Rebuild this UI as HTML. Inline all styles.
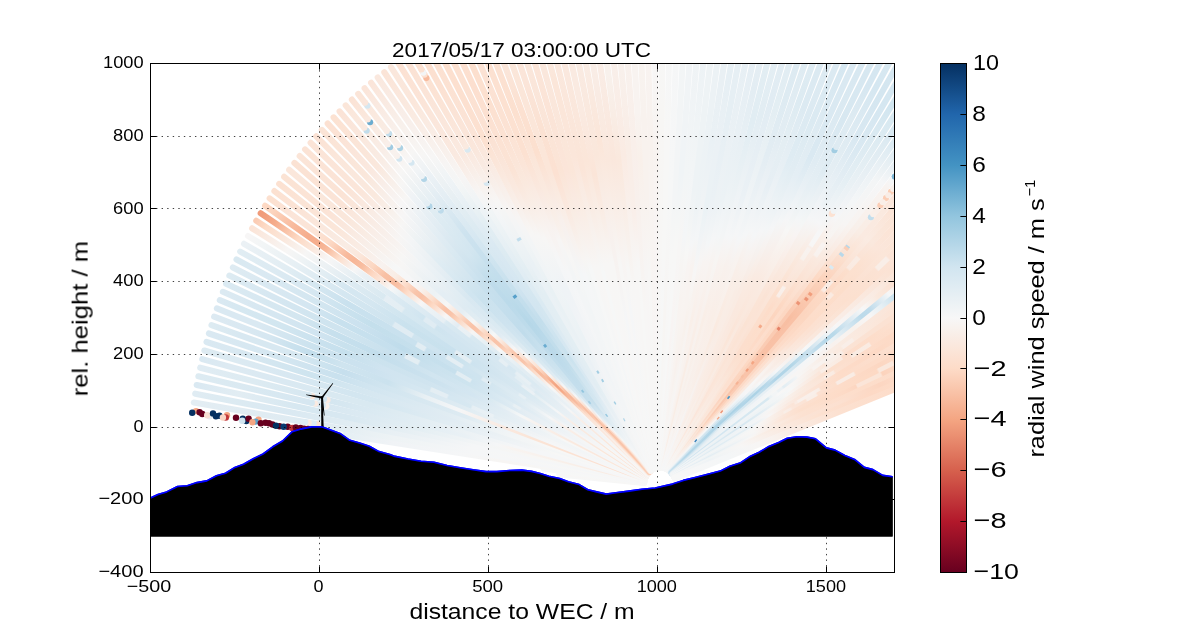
<!DOCTYPE html>
<html><head><meta charset="utf-8"><title>RHI scan</title>
<style>
html,body{margin:0;padding:0;background:#fff;}
body{width:1200px;height:636px;overflow:hidden;}
svg{display:block;font-family:"Liberation Sans",sans-serif;}
text{fill:#000;}
</style></head><body>
<svg width="1200" height="636" viewBox="0 0 1200 636">
<rect width="1200" height="636" fill="#fff"/>
<defs>
<clipPath id="ax"><rect x="150.0" y="63.6" width="744.0" height="508.8"/></clipPath>
<linearGradient id="cb" x1="0" y1="0" x2="0" y2="1"><stop offset="0.00" stop-color="#053061"/><stop offset="0.10" stop-color="#2166ac"/><stop offset="0.20" stop-color="#4393c3"/><stop offset="0.30" stop-color="#92c5de"/><stop offset="0.40" stop-color="#d1e5f0"/><stop offset="0.50" stop-color="#f7f7f7"/><stop offset="0.60" stop-color="#fddbc7"/><stop offset="0.70" stop-color="#f4a582"/><stop offset="0.80" stop-color="#d6604d"/><stop offset="0.90" stop-color="#b2182b"/><stop offset="1.00" stop-color="#67001f"/></linearGradient>
<linearGradient id="g1" gradientUnits="userSpaceOnUse" x1="644.2" y1="482.9" x2="559.3" y2="474.5"><stop offset="0.000" stop-color="#f7f6f5"/><stop offset="1.000" stop-color="#f6f7f7"/></linearGradient>
<linearGradient id="g2" gradientUnits="userSpaceOnUse" x1="644.2" y1="482.6" x2="559.5" y2="472.6"><stop offset="0.000" stop-color="#f7f7f6"/><stop offset="1.000" stop-color="#f7f6f5"/></linearGradient>
<linearGradient id="g3" gradientUnits="userSpaceOnUse" x1="644.2" y1="482.3" x2="543.6" y2="468.5"><stop offset="0.000" stop-color="#f7f7f6"/><stop offset="1.000" stop-color="#f6f7f7"/></linearGradient>
<linearGradient id="g4" gradientUnits="userSpaceOnUse" x1="644.3" y1="482.0" x2="344.4" y2="435.0"><stop offset="0.000" stop-color="#f6f6f7"/><stop offset="0.185" stop-color="#f6f7f7"/><stop offset="0.466" stop-color="#f7f5f3"/><stop offset="0.601" stop-color="#f5f6f7"/><stop offset="0.843" stop-color="#f0f3f6"/><stop offset="1.000" stop-color="#e5eff4"/></linearGradient>
<linearGradient id="g5" gradientUnits="userSpaceOnUse" x1="644.3" y1="481.7" x2="193.8" y2="402.5"><stop offset="0.000" stop-color="#f6f6f7"/><stop offset="0.383" stop-color="#f5f6f7"/><stop offset="0.554" stop-color="#eef3f5"/><stop offset="0.732" stop-color="#deebf2"/><stop offset="1.000" stop-color="#e3edf3"/></linearGradient>
<linearGradient id="g6" gradientUnits="userSpaceOnUse" x1="644.4" y1="481.4" x2="195.2" y2="393.7"><stop offset="0.000" stop-color="#f7f7f6"/><stop offset="0.115" stop-color="#f7f7f6"/><stop offset="0.390" stop-color="#f5f6f7"/><stop offset="0.695" stop-color="#deebf2"/><stop offset="0.803" stop-color="#dae9f2"/><stop offset="0.955" stop-color="#ddebf2"/><stop offset="1.000" stop-color="#e0ecf3"/></linearGradient>
<linearGradient id="g7" gradientUnits="userSpaceOnUse" x1="644.4" y1="481.2" x2="196.7" y2="385.0"><stop offset="0.000" stop-color="#f5f6f7"/><stop offset="0.379" stop-color="#f5f6f7"/><stop offset="0.550" stop-color="#e4eef3"/><stop offset="0.658" stop-color="#d8e8f1"/><stop offset="0.781" stop-color="#d7e8f1"/><stop offset="0.907" stop-color="#e2edf3"/><stop offset="1.000" stop-color="#dae9f2"/></linearGradient>
<linearGradient id="g8" gradientUnits="userSpaceOnUse" x1="644.5" y1="480.9" x2="198.4" y2="376.3"><stop offset="0.000" stop-color="#f6f7f7"/><stop offset="0.260" stop-color="#f7f6f4"/><stop offset="0.372" stop-color="#f3f5f6"/><stop offset="0.513" stop-color="#e3eef3"/><stop offset="0.617" stop-color="#dceaf2"/><stop offset="0.758" stop-color="#d6e7f1"/><stop offset="1.000" stop-color="#ddebf2"/></linearGradient>
<linearGradient id="g9" gradientUnits="userSpaceOnUse" x1="644.5" y1="480.6" x2="200.2" y2="367.7"><stop offset="0.000" stop-color="#f7f6f4"/><stop offset="0.041" stop-color="#f8f3f0"/><stop offset="0.082" stop-color="#f9ece4"/><stop offset="0.297" stop-color="#f8f4f1"/><stop offset="0.331" stop-color="#f5f6f7"/><stop offset="0.401" stop-color="#eaf1f5"/><stop offset="0.606" stop-color="#dbeaf2"/><stop offset="0.710" stop-color="#d4e6f0"/><stop offset="0.877" stop-color="#ddebf2"/><stop offset="1.000" stop-color="#e0ecf3"/></linearGradient>
<linearGradient id="g10" gradientUnits="userSpaceOnUse" x1="644.6" y1="480.3" x2="202.2" y2="359.1"><stop offset="0.000" stop-color="#f5f6f7"/><stop offset="0.290" stop-color="#f5f6f7"/><stop offset="0.617" stop-color="#d9e9f1"/><stop offset="0.725" stop-color="#d9e9f1"/><stop offset="0.822" stop-color="#dae9f2"/><stop offset="0.941" stop-color="#ddeaf2"/><stop offset="1.000" stop-color="#dae9f2"/></linearGradient>
<linearGradient id="g11" gradientUnits="userSpaceOnUse" x1="644.7" y1="480.0" x2="204.3" y2="350.5"><stop offset="0.000" stop-color="#f6f6f7"/><stop offset="0.230" stop-color="#f5f6f7"/><stop offset="0.346" stop-color="#ebf1f5"/><stop offset="0.442" stop-color="#e2edf3"/><stop offset="0.565" stop-color="#d7e8f1"/><stop offset="0.658" stop-color="#d3e6f0"/><stop offset="0.766" stop-color="#d6e7f1"/><stop offset="0.859" stop-color="#dae9f2"/><stop offset="0.981" stop-color="#ddebf2"/><stop offset="1.000" stop-color="#deebf2"/></linearGradient>
<linearGradient id="g12" gradientUnits="userSpaceOnUse" x1="644.7" y1="479.7" x2="206.5" y2="342.0"><stop offset="0.000" stop-color="#f7f7f7"/><stop offset="0.201" stop-color="#f7f7f6"/><stop offset="0.439" stop-color="#e1ecf3"/><stop offset="0.758" stop-color="#cee4ef"/><stop offset="0.926" stop-color="#d8e8f1"/><stop offset="1.000" stop-color="#dae9f2"/></linearGradient>
<linearGradient id="g13" gradientUnits="userSpaceOnUse" x1="644.8" y1="479.4" x2="208.9" y2="333.5"><stop offset="0.000" stop-color="#f7f7f6"/><stop offset="0.305" stop-color="#f2f5f6"/><stop offset="0.442" stop-color="#e2edf3"/><stop offset="0.636" stop-color="#d1e5f0"/><stop offset="0.706" stop-color="#c9e1ee"/><stop offset="0.758" stop-color="#cee3ef"/><stop offset="0.848" stop-color="#d5e7f1"/><stop offset="1.000" stop-color="#dae9f2"/></linearGradient>
<linearGradient id="g14" gradientUnits="userSpaceOnUse" x1="644.9" y1="479.1" x2="211.5" y2="325.1"><stop offset="0.000" stop-color="#f7f7f7"/><stop offset="0.223" stop-color="#f7f7f6"/><stop offset="0.320" stop-color="#f0f4f6"/><stop offset="0.413" stop-color="#deebf2"/><stop offset="0.584" stop-color="#d3e6f0"/><stop offset="0.695" stop-color="#c6dfed"/><stop offset="0.751" stop-color="#cee4ef"/><stop offset="0.807" stop-color="#d7e8f1"/><stop offset="0.937" stop-color="#d8e8f1"/><stop offset="1.000" stop-color="#ddebf2"/></linearGradient>
<linearGradient id="g15" gradientUnits="userSpaceOnUse" x1="645.0" y1="478.9" x2="214.1" y2="316.7"><stop offset="0.000" stop-color="#f7f7f7"/><stop offset="0.048" stop-color="#fce0d0"/><stop offset="0.257" stop-color="#fbe4d6"/><stop offset="0.320" stop-color="#fae9df"/><stop offset="0.431" stop-color="#f5f6f7"/><stop offset="0.509" stop-color="#e8f0f4"/><stop offset="0.595" stop-color="#cbe2ee"/><stop offset="0.703" stop-color="#cfe4ef"/><stop offset="0.773" stop-color="#c3deec"/><stop offset="0.825" stop-color="#cbe2ee"/><stop offset="0.874" stop-color="#d6e7f1"/><stop offset="1.000" stop-color="#ddeaf2"/></linearGradient>
<linearGradient id="g16" gradientUnits="userSpaceOnUse" x1="645.1" y1="478.6" x2="216.9" y2="308.4"><stop offset="0.000" stop-color="#f6f6f7"/><stop offset="0.219" stop-color="#f5f6f7"/><stop offset="0.327" stop-color="#ecf2f5"/><stop offset="0.431" stop-color="#deebf2"/><stop offset="0.539" stop-color="#d5e7f1"/><stop offset="0.643" stop-color="#cce2ef"/><stop offset="0.773" stop-color="#cbe2ee"/><stop offset="0.900" stop-color="#dae9f2"/><stop offset="1.000" stop-color="#dae9f2"/></linearGradient>
<linearGradient id="g17" gradientUnits="userSpaceOnUse" x1="645.2" y1="478.3" x2="219.8" y2="300.1"><stop offset="0.000" stop-color="#f7f6f5"/><stop offset="0.219" stop-color="#f4f5f6"/><stop offset="0.320" stop-color="#e9f0f4"/><stop offset="0.353" stop-color="#e2edf3"/><stop offset="0.357" stop-color="#eaf1f5"/><stop offset="0.405" stop-color="#e6eff4"/><stop offset="0.409" stop-color="#d7e8f1"/><stop offset="0.461" stop-color="#d5e7f1"/><stop offset="0.465" stop-color="#e4eef4"/><stop offset="0.502" stop-color="#e4eef3"/><stop offset="0.506" stop-color="#d3e6f0"/><stop offset="0.617" stop-color="#d0e4f0"/><stop offset="0.703" stop-color="#c6e0ed"/><stop offset="0.762" stop-color="#c9e1ee"/><stop offset="0.851" stop-color="#d2e6f0"/><stop offset="0.955" stop-color="#d6e8f1"/><stop offset="1.000" stop-color="#dae9f2"/></linearGradient>
<linearGradient id="g18" gradientUnits="userSpaceOnUse" x1="645.3" y1="478.0" x2="222.9" y2="291.8"><stop offset="0.000" stop-color="#f7f7f6"/><stop offset="0.219" stop-color="#f1f4f6"/><stop offset="0.361" stop-color="#e0ecf3"/><stop offset="0.472" stop-color="#d2e5f0"/><stop offset="0.710" stop-color="#c8e1ed"/><stop offset="0.770" stop-color="#d0e4f0"/><stop offset="0.885" stop-color="#d6e7f1"/><stop offset="1.000" stop-color="#dceaf2"/></linearGradient>
<linearGradient id="g19" gradientUnits="userSpaceOnUse" x1="645.4" y1="477.7" x2="226.1" y2="283.7"><stop offset="0.000" stop-color="#f6f7f7"/><stop offset="0.219" stop-color="#f0f4f6"/><stop offset="0.338" stop-color="#e2edf3"/><stop offset="0.480" stop-color="#cee3ef"/><stop offset="0.647" stop-color="#c3deec"/><stop offset="0.747" stop-color="#c7e0ed"/><stop offset="0.818" stop-color="#d3e6f0"/><stop offset="1.000" stop-color="#dbeaf2"/></linearGradient>
<linearGradient id="g20" gradientUnits="userSpaceOnUse" x1="645.5" y1="477.5" x2="229.4" y2="275.6"><stop offset="0.000" stop-color="#f7f6f5"/><stop offset="0.193" stop-color="#f7f7f6"/><stop offset="0.323" stop-color="#e5eef4"/><stop offset="0.413" stop-color="#d4e6f1"/><stop offset="0.513" stop-color="#d1e5f0"/><stop offset="0.602" stop-color="#c8e0ed"/><stop offset="0.710" stop-color="#cfe4ef"/><stop offset="0.766" stop-color="#cfe4ef"/><stop offset="0.896" stop-color="#d6e7f1"/><stop offset="1.000" stop-color="#ddebf2"/></linearGradient>
<linearGradient id="g21" gradientUnits="userSpaceOnUse" x1="645.6" y1="477.2" x2="232.9" y2="267.5"><stop offset="0.000" stop-color="#f8f3f1"/><stop offset="0.033" stop-color="#fbe5d8"/><stop offset="0.190" stop-color="#faeae0"/><stop offset="0.286" stop-color="#f7f5f3"/><stop offset="0.301" stop-color="#f4f6f7"/><stop offset="0.375" stop-color="#d9e9f1"/><stop offset="0.450" stop-color="#d1e5f0"/><stop offset="0.546" stop-color="#c8e0ed"/><stop offset="0.550" stop-color="#e3eef3"/><stop offset="0.580" stop-color="#e3edf3"/><stop offset="0.584" stop-color="#c5dfed"/><stop offset="0.740" stop-color="#c8e1ee"/><stop offset="0.814" stop-color="#d4e6f1"/><stop offset="1.000" stop-color="#deebf2"/></linearGradient>
<linearGradient id="g22" gradientUnits="userSpaceOnUse" x1="645.8" y1="476.9" x2="236.5" y2="259.5"><stop offset="0.000" stop-color="#f7f6f6"/><stop offset="0.190" stop-color="#f4f5f6"/><stop offset="0.346" stop-color="#dae9f2"/><stop offset="0.428" stop-color="#cee4ef"/><stop offset="0.506" stop-color="#cbe2ee"/><stop offset="0.595" stop-color="#bfdceb"/><stop offset="0.706" stop-color="#cce2ef"/><stop offset="0.796" stop-color="#d3e6f0"/><stop offset="0.937" stop-color="#dae9f2"/><stop offset="1.000" stop-color="#d9e9f1"/></linearGradient>
<linearGradient id="g23" gradientUnits="userSpaceOnUse" x1="645.9" y1="476.7" x2="240.2" y2="251.6"><stop offset="0.000" stop-color="#f7f7f6"/><stop offset="0.193" stop-color="#f0f3f6"/><stop offset="0.305" stop-color="#e3edf3"/><stop offset="0.309" stop-color="#e9f0f4"/><stop offset="0.323" stop-color="#e8f0f4"/><stop offset="0.327" stop-color="#dfecf3"/><stop offset="0.428" stop-color="#cde3ef"/><stop offset="0.431" stop-color="#e3eef3"/><stop offset="0.465" stop-color="#e2edf3"/><stop offset="0.468" stop-color="#c7e0ed"/><stop offset="0.677" stop-color="#c4dfec"/><stop offset="0.751" stop-color="#cce3ef"/><stop offset="0.814" stop-color="#d6e7f1"/><stop offset="1.000" stop-color="#e1edf3"/></linearGradient>
<linearGradient id="g24" gradientUnits="userSpaceOnUse" x1="646.0" y1="476.4" x2="244.0" y2="243.8"><stop offset="0.000" stop-color="#f6f6f7"/><stop offset="0.152" stop-color="#f4f5f6"/><stop offset="0.227" stop-color="#eaf1f5"/><stop offset="0.327" stop-color="#dae9f2"/><stop offset="0.428" stop-color="#cee4ef"/><stop offset="0.546" stop-color="#c9e1ee"/><stop offset="0.550" stop-color="#e2edf3"/><stop offset="0.569" stop-color="#e2edf3"/><stop offset="0.572" stop-color="#c9e1ee"/><stop offset="0.743" stop-color="#c9e1ee"/><stop offset="0.892" stop-color="#e1edf3"/><stop offset="1.000" stop-color="#ebf1f5"/></linearGradient>
<linearGradient id="g25" gradientUnits="userSpaceOnUse" x1="646.1" y1="476.1" x2="248.0" y2="236.0"><stop offset="0.000" stop-color="#f7f5f4"/><stop offset="0.115" stop-color="#f7f7f6"/><stop offset="0.230" stop-color="#edf2f5"/><stop offset="0.387" stop-color="#d3e6f0"/><stop offset="0.390" stop-color="#e1edf3"/><stop offset="0.409" stop-color="#e0ecf3"/><stop offset="0.413" stop-color="#cfe4ef"/><stop offset="0.457" stop-color="#cfe4f0"/><stop offset="0.461" stop-color="#e4eef4"/><stop offset="0.498" stop-color="#e4eef3"/><stop offset="0.502" stop-color="#cee3ef"/><stop offset="0.584" stop-color="#cfe4ef"/><stop offset="0.587" stop-color="#e0ecf3"/><stop offset="0.632" stop-color="#e0ecf3"/><stop offset="0.636" stop-color="#cfe4ef"/><stop offset="0.762" stop-color="#d5e7f1"/><stop offset="0.963" stop-color="#f2f5f6"/><stop offset="1.000" stop-color="#f7f6f6"/></linearGradient>
<linearGradient id="g26" gradientUnits="userSpaceOnUse" x1="646.3" y1="475.9" x2="252.1" y2="228.3"><stop offset="0.000" stop-color="#f9eee7"/><stop offset="0.026" stop-color="#fbe3d4"/><stop offset="0.104" stop-color="#fbe6d9"/><stop offset="0.212" stop-color="#f8f0eb"/><stop offset="0.242" stop-color="#f5f6f7"/><stop offset="0.309" stop-color="#dfecf3"/><stop offset="0.398" stop-color="#d7e8f1"/><stop offset="0.494" stop-color="#c8e1ed"/><stop offset="0.610" stop-color="#cae2ee"/><stop offset="0.699" stop-color="#d5e7f1"/><stop offset="0.762" stop-color="#d5e7f1"/><stop offset="0.870" stop-color="#eef3f5"/><stop offset="0.911" stop-color="#f7f6f5"/><stop offset="1.000" stop-color="#fbe4d7"/></linearGradient>
<linearGradient id="g27" gradientUnits="userSpaceOnUse" x1="646.4" y1="475.6" x2="256.3" y2="220.7"><stop offset="0.000" stop-color="#f7f6f5"/><stop offset="0.089" stop-color="#f7f5f3"/><stop offset="0.193" stop-color="#f4f5f6"/><stop offset="0.305" stop-color="#deebf2"/><stop offset="0.309" stop-color="#e6eff4"/><stop offset="0.323" stop-color="#e5eff4"/><stop offset="0.327" stop-color="#dceaf2"/><stop offset="0.446" stop-color="#cde3ef"/><stop offset="0.450" stop-color="#e4eef3"/><stop offset="0.487" stop-color="#e3edf3"/><stop offset="0.491" stop-color="#c9e1ee"/><stop offset="0.602" stop-color="#cee4ef"/><stop offset="0.758" stop-color="#deebf2"/><stop offset="0.874" stop-color="#f7f6f5"/><stop offset="0.974" stop-color="#fddcc8"/><stop offset="1.000" stop-color="#fbccb4"/></linearGradient>
<linearGradient id="g28" gradientUnits="userSpaceOnUse" x1="646.6" y1="475.4" x2="260.7" y2="213.2"><stop offset="0.000" stop-color="#f7f7f6"/><stop offset="0.134" stop-color="#f4f5f6"/><stop offset="0.216" stop-color="#eaf1f5"/><stop offset="0.323" stop-color="#d8e8f1"/><stop offset="0.435" stop-color="#cfe4ef"/><stop offset="0.546" stop-color="#d2e6f0"/><stop offset="0.628" stop-color="#d6e8f1"/><stop offset="0.632" stop-color="#e4eef3"/><stop offset="0.677" stop-color="#e5eef4"/><stop offset="0.680" stop-color="#d9e9f1"/><stop offset="0.755" stop-color="#e4eef3"/><stop offset="0.825" stop-color="#f7f6f6"/><stop offset="0.903" stop-color="#fddac5"/><stop offset="0.963" stop-color="#f5ac8b"/><stop offset="0.989" stop-color="#f19e7d"/><stop offset="1.000" stop-color="#f09b7a"/></linearGradient>
<linearGradient id="g29" gradientUnits="userSpaceOnUse" x1="646.7" y1="475.1" x2="265.1" y2="205.8"><stop offset="0.000" stop-color="#f7f6f5"/><stop offset="0.100" stop-color="#f7f7f6"/><stop offset="0.212" stop-color="#ebf1f5"/><stop offset="0.309" stop-color="#d8e9f1"/><stop offset="0.428" stop-color="#d2e5f0"/><stop offset="0.517" stop-color="#d1e5f0"/><stop offset="0.550" stop-color="#cfe4ef"/><stop offset="0.554" stop-color="#e0ecf3"/><stop offset="0.580" stop-color="#e0ecf3"/><stop offset="0.584" stop-color="#d0e5f0"/><stop offset="0.743" stop-color="#ebf1f5"/><stop offset="0.766" stop-color="#f7f6f6"/><stop offset="0.807" stop-color="#fdddca"/><stop offset="0.840" stop-color="#f7b99b"/><stop offset="0.859" stop-color="#f6ae8e"/><stop offset="0.888" stop-color="#f5ad8d"/><stop offset="0.926" stop-color="#f8ba9d"/><stop offset="0.981" stop-color="#fcd5bf"/><stop offset="1.000" stop-color="#fdd9c4"/></linearGradient>
<linearGradient id="g30" gradientUnits="userSpaceOnUse" x1="646.9" y1="474.9" x2="269.7" y2="198.4"><stop offset="0.000" stop-color="#faeae1"/><stop offset="0.019" stop-color="#fce2d3"/><stop offset="0.112" stop-color="#fbe6d9"/><stop offset="0.193" stop-color="#f9ede5"/><stop offset="0.234" stop-color="#f5f6f7"/><stop offset="0.290" stop-color="#e3eef3"/><stop offset="0.294" stop-color="#e3edf3"/><stop offset="0.297" stop-color="#ebf1f5"/><stop offset="0.327" stop-color="#e9f0f4"/><stop offset="0.331" stop-color="#dceaf2"/><stop offset="0.428" stop-color="#d3e6f0"/><stop offset="0.535" stop-color="#d4e6f1"/><stop offset="0.647" stop-color="#e5eff4"/><stop offset="0.677" stop-color="#f7f7f7"/><stop offset="0.725" stop-color="#fdd9c5"/><stop offset="0.755" stop-color="#f8bda0"/><stop offset="0.777" stop-color="#f7b697"/><stop offset="0.796" stop-color="#f8ba9d"/><stop offset="0.844" stop-color="#fddcc9"/><stop offset="0.881" stop-color="#fbe4d7"/><stop offset="0.937" stop-color="#fbe5d9"/><stop offset="1.000" stop-color="#fce0cf"/></linearGradient>
<linearGradient id="g31" gradientUnits="userSpaceOnUse" x1="647.0" y1="474.6" x2="274.4" y2="191.1"><stop offset="0.000" stop-color="#f7f6f5"/><stop offset="0.097" stop-color="#f7f7f6"/><stop offset="0.223" stop-color="#e8f0f4"/><stop offset="0.297" stop-color="#dbeaf2"/><stop offset="0.301" stop-color="#e4eef4"/><stop offset="0.349" stop-color="#e3eef3"/><stop offset="0.353" stop-color="#d8e8f1"/><stop offset="0.465" stop-color="#d5e7f1"/><stop offset="0.532" stop-color="#d9e9f1"/><stop offset="0.539" stop-color="#dbeaf2"/><stop offset="0.543" stop-color="#e7eff4"/><stop offset="0.580" stop-color="#ecf2f5"/><stop offset="0.587" stop-color="#ecf2f5"/><stop offset="0.606" stop-color="#f7f6f6"/><stop offset="0.643" stop-color="#fdddca"/><stop offset="0.665" stop-color="#f9c3a9"/><stop offset="0.680" stop-color="#f8bda0"/><stop offset="0.703" stop-color="#f8c0a4"/><stop offset="0.736" stop-color="#fcd7c2"/><stop offset="0.770" stop-color="#fbe6da"/><stop offset="0.807" stop-color="#f9ece4"/><stop offset="0.929" stop-color="#fbe4d7"/><stop offset="1.000" stop-color="#fce1d1"/></linearGradient>
<linearGradient id="g32" gradientUnits="userSpaceOnUse" x1="647.2" y1="474.4" x2="279.2" y2="183.9"><stop offset="0.000" stop-color="#f7f6f6"/><stop offset="0.115" stop-color="#f4f5f6"/><stop offset="0.312" stop-color="#ddeaf2"/><stop offset="0.316" stop-color="#e8f0f4"/><stop offset="0.353" stop-color="#e6eff4"/><stop offset="0.357" stop-color="#d7e8f1"/><stop offset="0.375" stop-color="#d6e7f1"/><stop offset="0.379" stop-color="#e6eff4"/><stop offset="0.398" stop-color="#e6eff4"/><stop offset="0.401" stop-color="#d5e7f1"/><stop offset="0.476" stop-color="#d9e9f1"/><stop offset="0.480" stop-color="#e8f0f4"/><stop offset="0.509" stop-color="#ebf1f5"/><stop offset="0.513" stop-color="#e1ecf3"/><stop offset="0.546" stop-color="#f7f6f6"/><stop offset="0.584" stop-color="#fdd8c3"/><stop offset="0.599" stop-color="#fac8ae"/><stop offset="0.613" stop-color="#f9c0a5"/><stop offset="0.628" stop-color="#f9c4aa"/><stop offset="0.662" stop-color="#fce2d3"/><stop offset="0.684" stop-color="#f9ede5"/><stop offset="0.721" stop-color="#f8f2ef"/><stop offset="0.848" stop-color="#fbe6d9"/><stop offset="0.944" stop-color="#fbe4d6"/><stop offset="1.000" stop-color="#fce1d1"/></linearGradient>
<linearGradient id="g33" gradientUnits="userSpaceOnUse" x1="647.4" y1="474.1" x2="284.2" y2="176.8"><stop offset="0.000" stop-color="#f7f6f5"/><stop offset="0.130" stop-color="#f4f5f6"/><stop offset="0.227" stop-color="#e7eff4"/><stop offset="0.305" stop-color="#dbeaf2"/><stop offset="0.431" stop-color="#e1edf3"/><stop offset="0.468" stop-color="#f0f4f6"/><stop offset="0.480" stop-color="#f7f5f4"/><stop offset="0.520" stop-color="#fcd6c0"/><stop offset="0.539" stop-color="#f9c4aa"/><stop offset="0.554" stop-color="#f9c1a6"/><stop offset="0.572" stop-color="#fbcdb5"/><stop offset="0.591" stop-color="#fcdfce"/><stop offset="0.621" stop-color="#f8f1ed"/><stop offset="0.643" stop-color="#f6f6f7"/><stop offset="0.695" stop-color="#f6f7f7"/><stop offset="0.870" stop-color="#fbe4d7"/><stop offset="1.000" stop-color="#fbe3d4"/></linearGradient>
<linearGradient id="g34" gradientUnits="userSpaceOnUse" x1="647.5" y1="473.9" x2="289.2" y2="169.8"><stop offset="0.000" stop-color="#faeae1"/><stop offset="0.019" stop-color="#fce1d2"/><stop offset="0.104" stop-color="#fbe6d9"/><stop offset="0.178" stop-color="#f9eee7"/><stop offset="0.216" stop-color="#f5f6f7"/><stop offset="0.271" stop-color="#e2edf3"/><stop offset="0.349" stop-color="#e2edf3"/><stop offset="0.394" stop-color="#eef3f5"/><stop offset="0.409" stop-color="#f6f7f7"/><stop offset="0.446" stop-color="#fcdfce"/><stop offset="0.472" stop-color="#f9c6ac"/><stop offset="0.487" stop-color="#f9c2a7"/><stop offset="0.502" stop-color="#fac9b0"/><stop offset="0.532" stop-color="#fbe5d8"/><stop offset="0.558" stop-color="#f7f6f5"/><stop offset="0.595" stop-color="#ecf2f5"/><stop offset="0.688" stop-color="#f7f6f5"/><stop offset="0.840" stop-color="#fae7db"/><stop offset="1.000" stop-color="#fbe7db"/></linearGradient>
<linearGradient id="g35" gradientUnits="userSpaceOnUse" x1="647.7" y1="473.7" x2="294.4" y2="162.9"><stop offset="0.000" stop-color="#f7f6f6"/><stop offset="0.089" stop-color="#f7f6f6"/><stop offset="0.257" stop-color="#e7eff4"/><stop offset="0.312" stop-color="#ebf2f5"/><stop offset="0.342" stop-color="#f7f7f6"/><stop offset="0.375" stop-color="#fbe5d7"/><stop offset="0.401" stop-color="#fbd0b9"/><stop offset="0.416" stop-color="#f9c5ab"/><stop offset="0.431" stop-color="#f9c3a9"/><stop offset="0.446" stop-color="#fbcdb5"/><stop offset="0.472" stop-color="#fae8dd"/><stop offset="0.491" stop-color="#f7f6f5"/><stop offset="0.524" stop-color="#e4eef4"/><stop offset="0.580" stop-color="#e4eef4"/><stop offset="0.695" stop-color="#f7f6f5"/><stop offset="0.870" stop-color="#fbe4d7"/><stop offset="1.000" stop-color="#fbe2d3"/></linearGradient>
<linearGradient id="g36" gradientUnits="userSpaceOnUse" x1="647.9" y1="473.5" x2="299.7" y2="156.1"><stop offset="0.000" stop-color="#f7f7f7"/><stop offset="0.167" stop-color="#f0f3f6"/><stop offset="0.245" stop-color="#eef3f5"/><stop offset="0.275" stop-color="#f7f7f6"/><stop offset="0.331" stop-color="#fcd7c2"/><stop offset="0.353" stop-color="#f9c5ab"/><stop offset="0.375" stop-color="#f9c3a8"/><stop offset="0.394" stop-color="#fbd1ba"/><stop offset="0.420" stop-color="#fae9df"/><stop offset="0.439" stop-color="#f7f7f7"/><stop offset="0.468" stop-color="#e3eef3"/><stop offset="0.524" stop-color="#deebf2"/><stop offset="0.654" stop-color="#f1f4f6"/><stop offset="0.699" stop-color="#f7f5f4"/><stop offset="0.881" stop-color="#fbe3d5"/><stop offset="1.000" stop-color="#fbe5d8"/></linearGradient>
<linearGradient id="g37" gradientUnits="userSpaceOnUse" x1="648.1" y1="473.2" x2="305.1" y2="149.4"><stop offset="0.000" stop-color="#f7f6f5"/><stop offset="0.056" stop-color="#f8f4f3"/><stop offset="0.093" stop-color="#f8f4f1"/><stop offset="0.167" stop-color="#f6f6f7"/><stop offset="0.204" stop-color="#f7f5f4"/><stop offset="0.238" stop-color="#f9ece4"/><stop offset="0.268" stop-color="#fddbc7"/><stop offset="0.294" stop-color="#f8bfa3"/><stop offset="0.309" stop-color="#f7ba9c"/><stop offset="0.327" stop-color="#f8c0a4"/><stop offset="0.349" stop-color="#fcd7c2"/><stop offset="0.387" stop-color="#f7f5f4"/><stop offset="0.398" stop-color="#eff3f6"/><stop offset="0.428" stop-color="#e1ecf3"/><stop offset="0.506" stop-color="#dbeaf2"/><stop offset="0.677" stop-color="#f1f4f6"/><stop offset="0.725" stop-color="#f7f5f4"/><stop offset="0.874" stop-color="#fbe4d7"/><stop offset="1.000" stop-color="#fbe3d5"/></linearGradient>
<linearGradient id="g38" gradientUnits="userSpaceOnUse" x1="648.2" y1="473.0" x2="310.6" y2="142.8"><stop offset="0.000" stop-color="#f7f5f4"/><stop offset="0.033" stop-color="#f7f6f5"/><stop offset="0.078" stop-color="#fbe7db"/><stop offset="0.149" stop-color="#fae7dc"/><stop offset="0.190" stop-color="#fcdfce"/><stop offset="0.212" stop-color="#fbd0b9"/><stop offset="0.249" stop-color="#f5ab89"/><stop offset="0.268" stop-color="#f3a481"/><stop offset="0.283" stop-color="#f5ac8b"/><stop offset="0.320" stop-color="#fdddca"/><stop offset="0.357" stop-color="#f7f7f7"/><stop offset="0.398" stop-color="#e2edf3"/><stop offset="0.450" stop-color="#dbeaf2"/><stop offset="0.532" stop-color="#d8e8f1"/><stop offset="0.706" stop-color="#f4f5f6"/><stop offset="0.736" stop-color="#f7f5f4"/><stop offset="0.851" stop-color="#fbe6da"/><stop offset="1.000" stop-color="#fbe4d7"/></linearGradient>
<linearGradient id="g39" gradientUnits="userSpaceOnUse" x1="648.4" y1="472.8" x2="316.2" y2="136.3"><stop offset="0.000" stop-color="#f7f6f5"/><stop offset="0.048" stop-color="#f8f4f2"/><stop offset="0.093" stop-color="#f8f0ec"/><stop offset="0.138" stop-color="#f9ece4"/><stop offset="0.175" stop-color="#fdddca"/><stop offset="0.212" stop-color="#f8bca0"/><stop offset="0.227" stop-color="#f7b799"/><stop offset="0.242" stop-color="#f8bda0"/><stop offset="0.257" stop-color="#fbcdb6"/><stop offset="0.275" stop-color="#fbe5d7"/><stop offset="0.294" stop-color="#f7f5f4"/><stop offset="0.309" stop-color="#eff3f6"/><stop offset="0.361" stop-color="#deebf2"/><stop offset="0.457" stop-color="#d3e6f0"/><stop offset="0.532" stop-color="#d0e5f0"/><stop offset="0.636" stop-color="#e1edf3"/><stop offset="0.740" stop-color="#f7f6f5"/><stop offset="0.825" stop-color="#fae9de"/><stop offset="0.874" stop-color="#fae8dd"/><stop offset="0.937" stop-color="#fbe7db"/><stop offset="1.000" stop-color="#fbe2d4"/></linearGradient>
<linearGradient id="g40" gradientUnits="userSpaceOnUse" x1="648.6" y1="472.6" x2="321.9" y2="129.9"><stop offset="0.000" stop-color="#f8f2ef"/><stop offset="0.063" stop-color="#f9eee8"/><stop offset="0.115" stop-color="#fbe5d8"/><stop offset="0.145" stop-color="#fdd8c3"/><stop offset="0.175" stop-color="#f9c1a6"/><stop offset="0.190" stop-color="#f8bda1"/><stop offset="0.204" stop-color="#f9c3a9"/><stop offset="0.219" stop-color="#fcd4be"/><stop offset="0.253" stop-color="#f7f5f3"/><stop offset="0.260" stop-color="#f2f4f6"/><stop offset="0.283" stop-color="#e0ecf3"/><stop offset="0.327" stop-color="#d8e9f1"/><stop offset="0.439" stop-color="#cee3ef"/><stop offset="0.509" stop-color="#cae2ee"/><stop offset="0.751" stop-color="#f7f6f6"/><stop offset="0.866" stop-color="#fae7db"/><stop offset="1.000" stop-color="#fbe4d6"/></linearGradient>
<linearGradient id="g41" gradientUnits="userSpaceOnUse" x1="648.8" y1="472.4" x2="327.7" y2="123.6"><stop offset="0.000" stop-color="#f9eee8"/><stop offset="0.045" stop-color="#fae8de"/><stop offset="0.097" stop-color="#fdd9c4"/><stop offset="0.138" stop-color="#f9c0a5"/><stop offset="0.156" stop-color="#f8bfa3"/><stop offset="0.171" stop-color="#fac6ad"/><stop offset="0.197" stop-color="#fce2d2"/><stop offset="0.223" stop-color="#f6f6f7"/><stop offset="0.249" stop-color="#dfecf3"/><stop offset="0.286" stop-color="#d5e7f1"/><stop offset="0.401" stop-color="#cee3ef"/><stop offset="0.513" stop-color="#cbe2ee"/><stop offset="0.770" stop-color="#f7f6f6"/><stop offset="0.862" stop-color="#fae9e0"/><stop offset="1.000" stop-color="#fce1d2"/></linearGradient>
<linearGradient id="g42" gradientUnits="userSpaceOnUse" x1="649.0" y1="472.2" x2="333.6" y2="117.4"><stop offset="0.000" stop-color="#fae8de"/><stop offset="0.045" stop-color="#fddcc8"/><stop offset="0.086" stop-color="#f9c5ab"/><stop offset="0.115" stop-color="#f8bfa3"/><stop offset="0.134" stop-color="#fac7ad"/><stop offset="0.167" stop-color="#fbe6da"/><stop offset="0.186" stop-color="#f7f6f5"/><stop offset="0.219" stop-color="#deebf2"/><stop offset="0.260" stop-color="#d3e6f0"/><stop offset="0.394" stop-color="#c0dceb"/><stop offset="0.532" stop-color="#c9e1ee"/><stop offset="0.602" stop-color="#d7e8f1"/><stop offset="0.721" stop-color="#ebf1f5"/><stop offset="0.773" stop-color="#f7f6f5"/><stop offset="0.862" stop-color="#fae8dd"/><stop offset="1.000" stop-color="#fce2d2"/></linearGradient>
<linearGradient id="g43" gradientUnits="userSpaceOnUse" x1="649.2" y1="471.9" x2="339.6" y2="111.4"><stop offset="0.000" stop-color="#fce0d0"/><stop offset="0.030" stop-color="#fcd3bc"/><stop offset="0.059" stop-color="#f9c1a6"/><stop offset="0.086" stop-color="#f9c1a6"/><stop offset="0.104" stop-color="#facab2"/><stop offset="0.134" stop-color="#fbe6da"/><stop offset="0.156" stop-color="#f6f6f7"/><stop offset="0.186" stop-color="#dceaf2"/><stop offset="0.223" stop-color="#d2e6f0"/><stop offset="0.305" stop-color="#cbe2ee"/><stop offset="0.416" stop-color="#c1ddec"/><stop offset="0.535" stop-color="#c8e0ed"/><stop offset="0.762" stop-color="#eff3f6"/><stop offset="0.799" stop-color="#f7f6f5"/><stop offset="0.866" stop-color="#f9ece4"/><stop offset="1.000" stop-color="#fbe3d6"/></linearGradient>
<linearGradient id="g44" gradientUnits="userSpaceOnUse" x1="649.4" y1="471.7" x2="345.7" y2="105.4"><stop offset="0.000" stop-color="#fcd5c0"/><stop offset="0.037" stop-color="#f9c3a9"/><stop offset="0.056" stop-color="#f9c3a9"/><stop offset="0.078" stop-color="#fbcfb8"/><stop offset="0.112" stop-color="#faeae2"/><stop offset="0.126" stop-color="#f7f7f7"/><stop offset="0.160" stop-color="#d8e8f1"/><stop offset="0.193" stop-color="#c6dfed"/><stop offset="0.465" stop-color="#bbdaea"/><stop offset="0.524" stop-color="#c0dceb"/><stop offset="0.591" stop-color="#d3e6f0"/><stop offset="0.714" stop-color="#e1edf3"/><stop offset="0.818" stop-color="#f7f6f5"/><stop offset="0.881" stop-color="#f9ede6"/><stop offset="1.000" stop-color="#fbe6d9"/></linearGradient>
<linearGradient id="g45" gradientUnits="userSpaceOnUse" x1="649.6" y1="471.6" x2="351.9" y2="99.6"><stop offset="0.000" stop-color="#facbb3"/><stop offset="0.026" stop-color="#fac7ad"/><stop offset="0.048" stop-color="#fbd0b9"/><stop offset="0.078" stop-color="#fbe4d6"/><stop offset="0.108" stop-color="#f6f7f7"/><stop offset="0.145" stop-color="#dceaf2"/><stop offset="0.197" stop-color="#c7e0ed"/><stop offset="0.316" stop-color="#bcdaea"/><stop offset="0.401" stop-color="#b5d7e8"/><stop offset="0.532" stop-color="#c4dfec"/><stop offset="0.599" stop-color="#d3e6f0"/><stop offset="0.703" stop-color="#dfecf3"/><stop offset="0.818" stop-color="#f7f6f5"/><stop offset="0.881" stop-color="#f9efe9"/><stop offset="1.000" stop-color="#fbe3d5"/></linearGradient>
<linearGradient id="g46" gradientUnits="userSpaceOnUse" x1="649.8" y1="471.4" x2="358.2" y2="93.9"><stop offset="0.000" stop-color="#facbb3"/><stop offset="0.022" stop-color="#fbd2bb"/><stop offset="0.063" stop-color="#faebe3"/><stop offset="0.086" stop-color="#f7f7f7"/><stop offset="0.130" stop-color="#ddebf2"/><stop offset="0.182" stop-color="#c8e0ed"/><stop offset="0.387" stop-color="#b7d8e9"/><stop offset="0.476" stop-color="#bfdceb"/><stop offset="0.632" stop-color="#cee3ef"/><stop offset="0.796" stop-color="#f1f4f6"/><stop offset="0.829" stop-color="#f7f6f5"/><stop offset="0.892" stop-color="#f9ede5"/><stop offset="1.000" stop-color="#fbe5d8"/></linearGradient>
<linearGradient id="g47" gradientUnits="userSpaceOnUse" x1="650.1" y1="471.2" x2="364.6" y2="88.3"><stop offset="0.000" stop-color="#fcd5bf"/><stop offset="0.045" stop-color="#f9ece5"/><stop offset="0.067" stop-color="#f7f7f6"/><stop offset="0.123" stop-color="#e2edf3"/><stop offset="0.283" stop-color="#c1ddeb"/><stop offset="0.439" stop-color="#c3deec"/><stop offset="0.599" stop-color="#d5e7f1"/><stop offset="0.770" stop-color="#ebf1f5"/><stop offset="0.833" stop-color="#f7f6f5"/><stop offset="1.000" stop-color="#fbe5d9"/></linearGradient>
<linearGradient id="g48" gradientUnits="userSpaceOnUse" x1="650.3" y1="471.0" x2="371.1" y2="82.8"><stop offset="0.000" stop-color="#fce0d0"/><stop offset="0.052" stop-color="#f6f7f7"/><stop offset="0.178" stop-color="#d5e7f1"/><stop offset="0.297" stop-color="#cfe4ef"/><stop offset="0.387" stop-color="#c3deec"/><stop offset="0.431" stop-color="#cae1ee"/><stop offset="0.491" stop-color="#d4e6f1"/><stop offset="0.632" stop-color="#ddebf2"/><stop offset="0.814" stop-color="#f7f6f5"/><stop offset="0.896" stop-color="#f8f0eb"/><stop offset="1.000" stop-color="#fbe5d9"/></linearGradient>
<linearGradient id="g49" gradientUnits="userSpaceOnUse" x1="650.5" y1="470.8" x2="377.7" y2="77.4"><stop offset="0.000" stop-color="#fae8de"/><stop offset="0.045" stop-color="#f7f7f7"/><stop offset="0.216" stop-color="#d4e7f1"/><stop offset="0.297" stop-color="#cae2ee"/><stop offset="0.383" stop-color="#d1e5f0"/><stop offset="0.569" stop-color="#dae9f2"/><stop offset="0.747" stop-color="#f0f4f6"/><stop offset="0.799" stop-color="#f7f6f5"/><stop offset="0.874" stop-color="#f8f0ec"/><stop offset="1.000" stop-color="#fae8de"/></linearGradient>
<linearGradient id="g50" gradientUnits="userSpaceOnUse" x1="650.7" y1="470.6" x2="384.3" y2="72.2"><stop offset="0.000" stop-color="#f9efe9"/><stop offset="0.033" stop-color="#f7f7f7"/><stop offset="0.204" stop-color="#dae9f2"/><stop offset="0.420" stop-color="#d3e6f0"/><stop offset="0.621" stop-color="#e3eef3"/><stop offset="0.717" stop-color="#f4f6f6"/><stop offset="0.770" stop-color="#f7f5f4"/><stop offset="0.888" stop-color="#faebe2"/><stop offset="1.000" stop-color="#fbe4d7"/></linearGradient>
<linearGradient id="g51" gradientUnits="userSpaceOnUse" x1="651.0" y1="470.5" x2="391.0" y2="67.1"><stop offset="0.000" stop-color="#f8f3f1"/><stop offset="0.030" stop-color="#f5f6f7"/><stop offset="0.253" stop-color="#e0ecf3"/><stop offset="0.416" stop-color="#dbeaf2"/><stop offset="0.669" stop-color="#f0f4f6"/><stop offset="0.729" stop-color="#f7f5f4"/><stop offset="0.914" stop-color="#fbe7db"/><stop offset="1.000" stop-color="#fae7dc"/></linearGradient>
<linearGradient id="g52" gradientUnits="userSpaceOnUse" x1="651.2" y1="470.3" x2="397.9" y2="62.1"><stop offset="0.000" stop-color="#f7f6f5"/><stop offset="0.208" stop-color="#e2edf3"/><stop offset="0.491" stop-color="#e3eef3"/><stop offset="0.639" stop-color="#f2f5f6"/><stop offset="0.680" stop-color="#f7f5f4"/><stop offset="0.766" stop-color="#faeae1"/><stop offset="1.000" stop-color="#fce1d2"/></linearGradient>
<linearGradient id="g53" gradientUnits="userSpaceOnUse" x1="651.4" y1="470.1" x2="404.8" y2="57.3"><stop offset="0.000" stop-color="#f7f7f6"/><stop offset="0.126" stop-color="#ebf1f5"/><stop offset="0.208" stop-color="#e3eef3"/><stop offset="0.428" stop-color="#e3eef3"/><stop offset="0.628" stop-color="#f5f6f7"/><stop offset="0.695" stop-color="#f8f2ee"/><stop offset="0.758" stop-color="#faeae1"/><stop offset="0.978" stop-color="#fbe2d4"/><stop offset="1.000" stop-color="#fce1d2"/></linearGradient>
<linearGradient id="g54" gradientUnits="userSpaceOnUse" x1="651.6" y1="470.0" x2="411.7" y2="52.5"><stop offset="0.000" stop-color="#f7f6f6"/><stop offset="0.216" stop-color="#ecf2f5"/><stop offset="0.494" stop-color="#eaf1f5"/><stop offset="0.643" stop-color="#f7f6f5"/><stop offset="0.747" stop-color="#faeae1"/><stop offset="0.851" stop-color="#fbe5d8"/><stop offset="0.955" stop-color="#fce1d1"/><stop offset="1.000" stop-color="#fce0d0"/></linearGradient>
<linearGradient id="g55" gradientUnits="userSpaceOnUse" x1="651.9" y1="469.8" x2="418.8" y2="47.9"><stop offset="0.000" stop-color="#f7f7f7"/><stop offset="0.253" stop-color="#ebf1f5"/><stop offset="0.435" stop-color="#e9f1f4"/><stop offset="0.565" stop-color="#f3f5f6"/><stop offset="0.617" stop-color="#f7f5f4"/><stop offset="0.758" stop-color="#fae7dc"/><stop offset="0.941" stop-color="#fce0d0"/><stop offset="1.000" stop-color="#fcdfce"/></linearGradient>
<linearGradient id="g56" gradientUnits="userSpaceOnUse" x1="652.1" y1="469.7" x2="425.9" y2="43.5"><stop offset="0.000" stop-color="#f7f6f5"/><stop offset="0.305" stop-color="#ecf2f5"/><stop offset="0.539" stop-color="#f3f5f6"/><stop offset="0.591" stop-color="#f7f5f4"/><stop offset="0.788" stop-color="#fbe4d7"/><stop offset="1.000" stop-color="#fce0cf"/></linearGradient>
<linearGradient id="g57" gradientUnits="userSpaceOnUse" x1="652.4" y1="469.5" x2="433.1" y2="39.2"><stop offset="0.000" stop-color="#f7f6f5"/><stop offset="0.115" stop-color="#f2f5f6"/><stop offset="0.208" stop-color="#f2f4f6"/><stop offset="0.305" stop-color="#ebf2f5"/><stop offset="0.435" stop-color="#f0f4f6"/><stop offset="0.550" stop-color="#f7f6f5"/><stop offset="0.762" stop-color="#fce1d1"/><stop offset="1.000" stop-color="#fcdfce"/></linearGradient>
<linearGradient id="g58" gradientUnits="userSpaceOnUse" x1="652.6" y1="469.4" x2="440.4" y2="35.0"><stop offset="0.000" stop-color="#f7f6f6"/><stop offset="0.416" stop-color="#eff3f6"/><stop offset="0.539" stop-color="#f7f6f5"/><stop offset="0.651" stop-color="#fae9df"/><stop offset="0.758" stop-color="#fbe2d4"/><stop offset="0.944" stop-color="#fce1d1"/><stop offset="1.000" stop-color="#fbe3d4"/></linearGradient>
<linearGradient id="g59" gradientUnits="userSpaceOnUse" x1="652.9" y1="469.2" x2="447.7" y2="30.9"><stop offset="0.000" stop-color="#f7f7f7"/><stop offset="0.193" stop-color="#f2f5f6"/><stop offset="0.320" stop-color="#f2f4f6"/><stop offset="0.413" stop-color="#eff3f6"/><stop offset="0.528" stop-color="#f7f6f5"/><stop offset="0.680" stop-color="#fbe4d6"/><stop offset="0.762" stop-color="#fce2d3"/><stop offset="0.874" stop-color="#fcdfcf"/><stop offset="0.963" stop-color="#fce1d1"/><stop offset="1.000" stop-color="#fbe2d3"/></linearGradient>
<linearGradient id="g60" gradientUnits="userSpaceOnUse" x1="653.1" y1="469.1" x2="455.1" y2="27.0"><stop offset="0.000" stop-color="#f7f7f7"/><stop offset="0.219" stop-color="#f1f4f6"/><stop offset="0.472" stop-color="#f5f6f7"/><stop offset="0.535" stop-color="#f8f4f2"/><stop offset="0.647" stop-color="#fae9de"/><stop offset="0.747" stop-color="#fce2d3"/><stop offset="0.918" stop-color="#fcdfcd"/><stop offset="1.000" stop-color="#fbe4d7"/></linearGradient>
<linearGradient id="g61" gradientUnits="userSpaceOnUse" x1="653.4" y1="469.0" x2="462.6" y2="23.2"><stop offset="0.000" stop-color="#f7f7f7"/><stop offset="0.149" stop-color="#f3f5f6"/><stop offset="0.442" stop-color="#f5f6f7"/><stop offset="0.546" stop-color="#f8f2ef"/><stop offset="0.684" stop-color="#fbe5d8"/><stop offset="0.788" stop-color="#fce2d3"/><stop offset="0.929" stop-color="#fbe2d4"/><stop offset="1.000" stop-color="#fcdfcd"/></linearGradient>
<linearGradient id="g62" gradientUnits="userSpaceOnUse" x1="653.6" y1="468.9" x2="470.1" y2="19.6"><stop offset="0.000" stop-color="#f6f7f7"/><stop offset="0.134" stop-color="#f3f5f6"/><stop offset="0.431" stop-color="#f3f5f6"/><stop offset="0.509" stop-color="#f7f5f4"/><stop offset="0.628" stop-color="#fae8de"/><stop offset="0.703" stop-color="#fce1d1"/><stop offset="0.862" stop-color="#fce1d1"/><stop offset="1.000" stop-color="#fce0cf"/></linearGradient>
<linearGradient id="g63" gradientUnits="userSpaceOnUse" x1="653.9" y1="468.7" x2="477.7" y2="16.1"><stop offset="0.000" stop-color="#f7f7f7"/><stop offset="0.353" stop-color="#f2f5f6"/><stop offset="0.472" stop-color="#f7f6f5"/><stop offset="0.613" stop-color="#faeae0"/><stop offset="0.788" stop-color="#fce0cf"/><stop offset="1.000" stop-color="#fbe3d5"/></linearGradient>
<linearGradient id="g64" gradientUnits="userSpaceOnUse" x1="654.1" y1="468.6" x2="485.3" y2="12.8"><stop offset="0.000" stop-color="#f7f6f5"/><stop offset="0.428" stop-color="#f4f6f7"/><stop offset="0.546" stop-color="#f8f0ec"/><stop offset="0.625" stop-color="#fae7dc"/><stop offset="0.695" stop-color="#fce0cf"/><stop offset="0.788" stop-color="#fce1d1"/><stop offset="0.907" stop-color="#fae7dc"/><stop offset="1.000" stop-color="#fce1d1"/></linearGradient>
<linearGradient id="g65" gradientUnits="userSpaceOnUse" x1="654.4" y1="468.5" x2="493.0" y2="9.6"><stop offset="0.000" stop-color="#f6f7f7"/><stop offset="0.238" stop-color="#f4f6f6"/><stop offset="0.424" stop-color="#f5f6f7"/><stop offset="0.543" stop-color="#f9efe9"/><stop offset="0.651" stop-color="#fbe6d9"/><stop offset="0.829" stop-color="#fbe6d9"/><stop offset="1.000" stop-color="#fae7db"/></linearGradient>
<linearGradient id="g66" gradientUnits="userSpaceOnUse" x1="654.6" y1="468.4" x2="500.7" y2="6.5"><stop offset="0.000" stop-color="#f7f6f6"/><stop offset="0.227" stop-color="#f5f6f7"/><stop offset="0.416" stop-color="#f4f6f6"/><stop offset="0.454" stop-color="#f7f5f3"/><stop offset="0.639" stop-color="#fce1d2"/><stop offset="0.743" stop-color="#fbe2d3"/><stop offset="0.840" stop-color="#fbe5d9"/><stop offset="1.000" stop-color="#fbe6da"/></linearGradient>
<linearGradient id="g67" gradientUnits="userSpaceOnUse" x1="654.9" y1="468.3" x2="508.5" y2="3.6"><stop offset="0.000" stop-color="#f7f7f6"/><stop offset="0.428" stop-color="#f6f7f7"/><stop offset="0.546" stop-color="#f9ede5"/><stop offset="0.643" stop-color="#fbe4d6"/><stop offset="0.914" stop-color="#fae7dc"/><stop offset="1.000" stop-color="#fbe4d6"/></linearGradient>
<linearGradient id="g68" gradientUnits="userSpaceOnUse" x1="655.2" y1="468.2" x2="516.4" y2="0.8"><stop offset="0.000" stop-color="#f7f5f4"/><stop offset="0.164" stop-color="#f4f6f7"/><stop offset="0.431" stop-color="#f7f6f5"/><stop offset="0.639" stop-color="#fbe5d9"/><stop offset="0.766" stop-color="#fbe4d7"/><stop offset="0.981" stop-color="#fbe6da"/><stop offset="1.000" stop-color="#fbe6da"/></linearGradient>
<linearGradient id="g69" gradientUnits="userSpaceOnUse" x1="655.4" y1="468.1" x2="524.2" y2="-1.8"><stop offset="0.000" stop-color="#f7f7f7"/><stop offset="0.428" stop-color="#f7f6f5"/><stop offset="0.636" stop-color="#fbe6d9"/><stop offset="0.848" stop-color="#fae7dc"/><stop offset="0.929" stop-color="#fbe6db"/><stop offset="1.000" stop-color="#fae9df"/></linearGradient>
<linearGradient id="g70" gradientUnits="userSpaceOnUse" x1="655.7" y1="468.1" x2="532.2" y2="-4.3"><stop offset="0.000" stop-color="#f6f7f7"/><stop offset="0.416" stop-color="#f6f7f7"/><stop offset="0.658" stop-color="#fbe6da"/><stop offset="0.822" stop-color="#fbe6d9"/><stop offset="0.900" stop-color="#faebe2"/><stop offset="1.000" stop-color="#faeae0"/></linearGradient>
<linearGradient id="g71" gradientUnits="userSpaceOnUse" x1="656.0" y1="468.0" x2="540.1" y2="-6.6"><stop offset="0.000" stop-color="#f7f7f7"/><stop offset="0.431" stop-color="#f7f6f5"/><stop offset="0.632" stop-color="#fbe5d8"/><stop offset="1.000" stop-color="#faeae1"/></linearGradient>
<linearGradient id="g72" gradientUnits="userSpaceOnUse" x1="656.2" y1="467.9" x2="548.1" y2="-8.8"><stop offset="0.000" stop-color="#f7f6f6"/><stop offset="0.428" stop-color="#f7f6f5"/><stop offset="0.643" stop-color="#fbe6d9"/><stop offset="0.829" stop-color="#fae8de"/><stop offset="0.914" stop-color="#f9ece4"/><stop offset="1.000" stop-color="#fae8de"/></linearGradient>
<linearGradient id="g73" gradientUnits="userSpaceOnUse" x1="656.5" y1="467.8" x2="556.1" y2="-10.8"><stop offset="0.000" stop-color="#f6f7f7"/><stop offset="0.431" stop-color="#f7f6f5"/><stop offset="0.613" stop-color="#fbe5d8"/><stop offset="0.747" stop-color="#faeae1"/><stop offset="0.851" stop-color="#faeae1"/><stop offset="1.000" stop-color="#fae7dc"/></linearGradient>
<linearGradient id="g74" gradientUnits="userSpaceOnUse" x1="656.8" y1="467.8" x2="564.2" y2="-12.7"><stop offset="0.000" stop-color="#f7f7f6"/><stop offset="0.115" stop-color="#f7f7f6"/><stop offset="0.309" stop-color="#f5f6f7"/><stop offset="0.506" stop-color="#f8f0ec"/><stop offset="0.651" stop-color="#fae7db"/><stop offset="0.929" stop-color="#f9ece5"/><stop offset="1.000" stop-color="#faebe2"/></linearGradient>
<linearGradient id="g75" gradientUnits="userSpaceOnUse" x1="657.0" y1="467.7" x2="572.3" y2="-14.4"><stop offset="0.000" stop-color="#f7f7f7"/><stop offset="0.420" stop-color="#f7f6f5"/><stop offset="0.558" stop-color="#f9ede6"/><stop offset="0.677" stop-color="#fbe6d9"/><stop offset="0.862" stop-color="#f9ede6"/><stop offset="1.000" stop-color="#f9efe9"/></linearGradient>
<linearGradient id="g76" gradientUnits="userSpaceOnUse" x1="657.3" y1="467.7" x2="580.4" y2="-16.0"><stop offset="0.000" stop-color="#f7f7f6"/><stop offset="0.327" stop-color="#f5f6f7"/><stop offset="0.431" stop-color="#f8f4f2"/><stop offset="0.636" stop-color="#fae8dd"/><stop offset="0.770" stop-color="#f9ebe3"/><stop offset="0.914" stop-color="#f9f0eb"/><stop offset="1.000" stop-color="#f9ece4"/></linearGradient>
<linearGradient id="g77" gradientUnits="userSpaceOnUse" x1="657.6" y1="467.6" x2="588.5" y2="-17.4"><stop offset="0.000" stop-color="#f6f7f7"/><stop offset="0.409" stop-color="#f7f6f5"/><stop offset="0.639" stop-color="#fae7dc"/><stop offset="0.918" stop-color="#f9efea"/><stop offset="1.000" stop-color="#f9ebe3"/></linearGradient>
<linearGradient id="g78" gradientUnits="userSpaceOnUse" x1="657.9" y1="467.6" x2="596.7" y2="-18.6"><stop offset="0.000" stop-color="#f7f7f7"/><stop offset="0.379" stop-color="#f7f6f5"/><stop offset="0.632" stop-color="#fae8dd"/><stop offset="0.810" stop-color="#f8f1ec"/><stop offset="1.000" stop-color="#f9eee8"/></linearGradient>
<linearGradient id="g79" gradientUnits="userSpaceOnUse" x1="658.1" y1="467.5" x2="604.9" y2="-19.7"><stop offset="0.000" stop-color="#f7f6f5"/><stop offset="0.405" stop-color="#f7f6f5"/><stop offset="0.639" stop-color="#faebe3"/><stop offset="0.926" stop-color="#f8f1ed"/><stop offset="1.000" stop-color="#f9efe8"/></linearGradient>
<linearGradient id="g80" gradientUnits="userSpaceOnUse" x1="658.4" y1="467.5" x2="613.1" y2="-20.7"><stop offset="0.000" stop-color="#f7f7f6"/><stop offset="0.327" stop-color="#f7f7f6"/><stop offset="0.420" stop-color="#f7f6f5"/><stop offset="0.517" stop-color="#f9efea"/><stop offset="0.654" stop-color="#f9ede6"/><stop offset="0.870" stop-color="#f8f1ed"/><stop offset="1.000" stop-color="#f9efe9"/></linearGradient>
<linearGradient id="g81" gradientUnits="userSpaceOnUse" x1="658.7" y1="467.5" x2="621.3" y2="-21.5"><stop offset="0.000" stop-color="#f7f6f6"/><stop offset="0.320" stop-color="#f7f6f5"/><stop offset="0.546" stop-color="#f8f0ec"/><stop offset="0.658" stop-color="#f9efea"/><stop offset="0.859" stop-color="#f8f1ed"/><stop offset="1.000" stop-color="#f8f2ef"/></linearGradient>
<linearGradient id="g82" gradientUnits="userSpaceOnUse" x1="659.0" y1="467.5" x2="629.5" y2="-22.2"><stop offset="0.000" stop-color="#f7f7f7"/><stop offset="0.409" stop-color="#f7f5f4"/><stop offset="0.632" stop-color="#f9f0ea"/><stop offset="0.725" stop-color="#f8f3f0"/><stop offset="0.974" stop-color="#f8f3f0"/><stop offset="1.000" stop-color="#f8f3f1"/></linearGradient>
<linearGradient id="g83" gradientUnits="userSpaceOnUse" x1="659.3" y1="467.4" x2="637.7" y2="-22.6"><stop offset="0.000" stop-color="#f7f7f6"/><stop offset="0.394" stop-color="#f7f6f5"/><stop offset="0.550" stop-color="#f8f2ee"/><stop offset="0.721" stop-color="#f8f2ee"/><stop offset="0.981" stop-color="#f8f4f1"/><stop offset="1.000" stop-color="#f8f4f1"/></linearGradient>
<linearGradient id="g84" gradientUnits="userSpaceOnUse" x1="659.5" y1="467.4" x2="646.0" y2="-23.0"><stop offset="0.000" stop-color="#f7f7f7"/><stop offset="0.468" stop-color="#f8f4f2"/><stop offset="0.658" stop-color="#f8f2ee"/><stop offset="0.888" stop-color="#f8f3f1"/><stop offset="1.000" stop-color="#f8f4f2"/></linearGradient>
<linearGradient id="g85" gradientUnits="userSpaceOnUse" x1="659.8" y1="467.4" x2="654.2" y2="-23.2"><stop offset="0.000" stop-color="#f7f7f7"/><stop offset="0.517" stop-color="#f8f4f3"/><stop offset="0.636" stop-color="#f8f3f0"/><stop offset="0.829" stop-color="#f7f6f6"/><stop offset="0.941" stop-color="#f7f5f4"/><stop offset="1.000" stop-color="#f7f7f7"/></linearGradient>
<linearGradient id="g86" gradientUnits="userSpaceOnUse" x1="660.1" y1="467.4" x2="662.5" y2="-23.2"><stop offset="0.000" stop-color="#f7f7f7"/><stop offset="0.725" stop-color="#f7f6f4"/><stop offset="0.859" stop-color="#f7f7f6"/><stop offset="1.000" stop-color="#f7f7f7"/></linearGradient>
<linearGradient id="g87" gradientUnits="userSpaceOnUse" x1="660.4" y1="467.4" x2="670.7" y2="-23.1"><stop offset="0.000" stop-color="#f6f7f7"/><stop offset="0.130" stop-color="#f6f7f7"/><stop offset="0.465" stop-color="#f7f7f6"/><stop offset="0.662" stop-color="#f7f7f6"/><stop offset="1.000" stop-color="#f5f6f7"/></linearGradient>
<linearGradient id="g88" gradientUnits="userSpaceOnUse" x1="660.6" y1="467.4" x2="679.0" y2="-22.8"><stop offset="0.000" stop-color="#f7f7f6"/><stop offset="0.312" stop-color="#f7f5f3"/><stop offset="0.561" stop-color="#f6f7f7"/><stop offset="0.948" stop-color="#f5f6f7"/><stop offset="1.000" stop-color="#f5f6f7"/></linearGradient>
<linearGradient id="g89" gradientUnits="userSpaceOnUse" x1="660.9" y1="467.4" x2="687.2" y2="-22.4"><stop offset="0.000" stop-color="#f7f7f7"/><stop offset="0.223" stop-color="#f7f6f5"/><stop offset="0.431" stop-color="#f7f7f6"/><stop offset="0.554" stop-color="#f3f5f6"/><stop offset="1.000" stop-color="#f2f5f6"/></linearGradient>
<linearGradient id="g90" gradientUnits="userSpaceOnUse" x1="661.2" y1="467.5" x2="695.4" y2="-21.8"><stop offset="0.000" stop-color="#f7f7f7"/><stop offset="0.454" stop-color="#f7f7f6"/><stop offset="0.602" stop-color="#f0f4f6"/><stop offset="0.862" stop-color="#f1f4f6"/><stop offset="1.000" stop-color="#f1f4f6"/></linearGradient>
<linearGradient id="g91" gradientUnits="userSpaceOnUse" x1="661.5" y1="467.5" x2="703.6" y2="-21.0"><stop offset="0.000" stop-color="#f7f7f6"/><stop offset="0.286" stop-color="#f8f4f3"/><stop offset="0.442" stop-color="#f7f6f5"/><stop offset="0.599" stop-color="#f2f5f6"/><stop offset="1.000" stop-color="#edf2f5"/></linearGradient>
<linearGradient id="g92" gradientUnits="userSpaceOnUse" x1="661.7" y1="467.5" x2="711.8" y2="-20.1"><stop offset="0.000" stop-color="#f6f7f7"/><stop offset="0.413" stop-color="#f7f5f3"/><stop offset="0.472" stop-color="#f4f6f7"/><stop offset="0.621" stop-color="#f2f5f6"/><stop offset="0.870" stop-color="#ecf2f5"/><stop offset="1.000" stop-color="#eaf1f5"/></linearGradient>
<linearGradient id="g93" gradientUnits="userSpaceOnUse" x1="662.0" y1="467.6" x2="720.0" y2="-19.1"><stop offset="0.000" stop-color="#f7f7f7"/><stop offset="0.346" stop-color="#f8f3f0"/><stop offset="0.442" stop-color="#f7f7f6"/><stop offset="0.569" stop-color="#eef3f5"/><stop offset="0.952" stop-color="#eef3f5"/><stop offset="1.000" stop-color="#f1f4f6"/></linearGradient>
<linearGradient id="g94" gradientUnits="userSpaceOnUse" x1="662.3" y1="467.6" x2="728.2" y2="-17.9"><stop offset="0.000" stop-color="#f7f7f6"/><stop offset="0.134" stop-color="#f8f3f1"/><stop offset="0.253" stop-color="#f8f3ef"/><stop offset="0.416" stop-color="#f8f4f2"/><stop offset="0.461" stop-color="#f5f6f7"/><stop offset="0.535" stop-color="#eef3f5"/><stop offset="0.725" stop-color="#ecf2f5"/><stop offset="0.881" stop-color="#ecf2f5"/><stop offset="1.000" stop-color="#eaf1f5"/></linearGradient>
<linearGradient id="g95" gradientUnits="userSpaceOnUse" x1="662.6" y1="467.6" x2="736.3" y2="-16.5"><stop offset="0.000" stop-color="#f6f7f7"/><stop offset="0.201" stop-color="#f8f1ed"/><stop offset="0.312" stop-color="#f8f3f0"/><stop offset="0.413" stop-color="#f8f3f0"/><stop offset="0.476" stop-color="#f4f6f7"/><stop offset="0.558" stop-color="#eff3f5"/><stop offset="0.673" stop-color="#eaf1f5"/><stop offset="0.777" stop-color="#e9f0f4"/><stop offset="1.000" stop-color="#e9f0f4"/></linearGradient>
<linearGradient id="g96" gradientUnits="userSpaceOnUse" x1="662.8" y1="467.7" x2="744.5" y2="-15.0"><stop offset="0.000" stop-color="#f6f7f7"/><stop offset="0.301" stop-color="#f8f1ec"/><stop offset="0.398" stop-color="#f7f6f5"/><stop offset="0.476" stop-color="#f1f4f6"/><stop offset="0.535" stop-color="#ebf2f5"/><stop offset="0.669" stop-color="#ebf1f5"/><stop offset="0.810" stop-color="#e6eff4"/><stop offset="0.967" stop-color="#e9f1f4"/><stop offset="1.000" stop-color="#eaf1f5"/></linearGradient>
<linearGradient id="g97" gradientUnits="userSpaceOnUse" x1="663.1" y1="467.7" x2="752.6" y2="-13.4"><stop offset="0.000" stop-color="#f6f6f7"/><stop offset="0.364" stop-color="#f8f2ee"/><stop offset="0.431" stop-color="#f7f5f4"/><stop offset="0.491" stop-color="#f1f4f6"/><stop offset="0.561" stop-color="#ebf1f5"/><stop offset="0.732" stop-color="#e6eff4"/><stop offset="0.955" stop-color="#e6eff4"/><stop offset="1.000" stop-color="#e8f0f4"/></linearGradient>
<linearGradient id="g98" gradientUnits="userSpaceOnUse" x1="663.4" y1="467.8" x2="760.6" y2="-11.6"><stop offset="0.000" stop-color="#f7f6f6"/><stop offset="0.104" stop-color="#f8f3f0"/><stop offset="0.204" stop-color="#f8f3f0"/><stop offset="0.305" stop-color="#f9efe9"/><stop offset="0.428" stop-color="#f8f4f2"/><stop offset="0.468" stop-color="#f4f6f7"/><stop offset="0.543" stop-color="#edf2f5"/><stop offset="1.000" stop-color="#e4eef4"/></linearGradient>
<linearGradient id="g99" gradientUnits="userSpaceOnUse" x1="663.7" y1="467.9" x2="768.7" y2="-9.6"><stop offset="0.000" stop-color="#f7f6f5"/><stop offset="0.112" stop-color="#f8f1ed"/><stop offset="0.342" stop-color="#f8f1ed"/><stop offset="0.431" stop-color="#f8f4f2"/><stop offset="0.480" stop-color="#f5f6f7"/><stop offset="0.561" stop-color="#ecf2f5"/><stop offset="0.859" stop-color="#e5eef4"/><stop offset="0.989" stop-color="#e5eff4"/><stop offset="1.000" stop-color="#e6eff4"/></linearGradient>
<linearGradient id="g100" gradientUnits="userSpaceOnUse" x1="663.9" y1="467.9" x2="776.7" y2="-7.5"><stop offset="0.000" stop-color="#f7f6f5"/><stop offset="0.048" stop-color="#f9ede5"/><stop offset="0.178" stop-color="#f9ede5"/><stop offset="0.290" stop-color="#f9eee8"/><stop offset="0.428" stop-color="#f8f3f0"/><stop offset="0.487" stop-color="#f4f6f7"/><stop offset="0.591" stop-color="#ecf2f5"/><stop offset="0.796" stop-color="#e3edf3"/><stop offset="0.929" stop-color="#e7eff4"/><stop offset="1.000" stop-color="#e3eef3"/></linearGradient>
<linearGradient id="g101" gradientUnits="userSpaceOnUse" x1="664.2" y1="468.0" x2="784.7" y2="-5.2"><stop offset="0.000" stop-color="#f7f6f6"/><stop offset="0.108" stop-color="#f8f2ee"/><stop offset="0.338" stop-color="#f8f1ed"/><stop offset="0.442" stop-color="#f7f5f3"/><stop offset="0.494" stop-color="#f3f5f6"/><stop offset="0.732" stop-color="#e1edf3"/><stop offset="0.993" stop-color="#e4eef3"/><stop offset="1.000" stop-color="#e4eef3"/></linearGradient>
<linearGradient id="g102" gradientUnits="userSpaceOnUse" x1="664.5" y1="468.1" x2="792.6" y2="-2.8"><stop offset="0.000" stop-color="#f7f7f7"/><stop offset="0.167" stop-color="#f8f0eb"/><stop offset="0.316" stop-color="#f9eee7"/><stop offset="0.435" stop-color="#f8f2ef"/><stop offset="0.494" stop-color="#f5f6f7"/><stop offset="0.747" stop-color="#e2edf3"/><stop offset="1.000" stop-color="#e5eff4"/></linearGradient>
<linearGradient id="g103" gradientUnits="userSpaceOnUse" x1="664.7" y1="468.2" x2="800.5" y2="-0.2"><stop offset="0.000" stop-color="#f7f6f6"/><stop offset="0.149" stop-color="#f8f2ee"/><stop offset="0.342" stop-color="#f9efe9"/><stop offset="0.431" stop-color="#f8f2ee"/><stop offset="0.491" stop-color="#f5f6f7"/><stop offset="0.584" stop-color="#ebf1f5"/><stop offset="0.781" stop-color="#e1ecf3"/><stop offset="1.000" stop-color="#e3eef3"/></linearGradient>
<linearGradient id="g104" gradientUnits="userSpaceOnUse" x1="665.0" y1="468.3" x2="808.3" y2="2.5"><stop offset="0.000" stop-color="#f7f7f7"/><stop offset="0.093" stop-color="#f8f0ec"/><stop offset="0.335" stop-color="#f9eee8"/><stop offset="0.435" stop-color="#f8f1ed"/><stop offset="0.502" stop-color="#f5f6f7"/><stop offset="0.777" stop-color="#e3eef3"/><stop offset="0.959" stop-color="#e0ecf3"/><stop offset="1.000" stop-color="#deebf2"/></linearGradient>
<linearGradient id="g105" gradientUnits="userSpaceOnUse" x1="665.3" y1="468.4" x2="816.1" y2="5.3"><stop offset="0.000" stop-color="#f5f6f7"/><stop offset="0.119" stop-color="#f8f1ed"/><stop offset="0.323" stop-color="#f9eee7"/><stop offset="0.428" stop-color="#f8f1ed"/><stop offset="0.494" stop-color="#f5f6f7"/><stop offset="0.677" stop-color="#e3edf3"/><stop offset="0.796" stop-color="#deebf2"/><stop offset="1.000" stop-color="#dceaf2"/></linearGradient>
<linearGradient id="g106" gradientUnits="userSpaceOnUse" x1="665.5" y1="468.5" x2="823.9" y2="8.3"><stop offset="0.000" stop-color="#f7f7f7"/><stop offset="0.212" stop-color="#f9eee8"/><stop offset="0.335" stop-color="#f9efe9"/><stop offset="0.457" stop-color="#f8f3f0"/><stop offset="0.509" stop-color="#f5f6f7"/><stop offset="0.710" stop-color="#e3edf3"/><stop offset="0.948" stop-color="#ddebf2"/><stop offset="1.000" stop-color="#dfebf3"/></linearGradient>
<linearGradient id="g107" gradientUnits="userSpaceOnUse" x1="665.8" y1="468.6" x2="831.6" y2="11.5"><stop offset="0.000" stop-color="#f7f6f6"/><stop offset="0.305" stop-color="#faeae0"/><stop offset="0.435" stop-color="#f9efe9"/><stop offset="0.520" stop-color="#f5f6f7"/><stop offset="0.617" stop-color="#e7eff4"/><stop offset="0.714" stop-color="#e4eef3"/><stop offset="0.803" stop-color="#ddebf2"/><stop offset="1.000" stop-color="#dfecf3"/></linearGradient>
<linearGradient id="g108" gradientUnits="userSpaceOnUse" x1="666.0" y1="468.7" x2="839.3" y2="14.8"><stop offset="0.000" stop-color="#f5f6f7"/><stop offset="0.056" stop-color="#f5f6f7"/><stop offset="0.197" stop-color="#f8f0ec"/><stop offset="0.297" stop-color="#f9ece4"/><stop offset="0.416" stop-color="#f9eee7"/><stop offset="0.513" stop-color="#f5f6f7"/><stop offset="0.796" stop-color="#dceaf2"/><stop offset="0.974" stop-color="#dbeaf2"/><stop offset="1.000" stop-color="#dbeaf2"/></linearGradient>
<linearGradient id="g109" gradientUnits="userSpaceOnUse" x1="666.3" y1="468.8" x2="846.9" y2="18.2"><stop offset="0.000" stop-color="#f6f6f7"/><stop offset="0.190" stop-color="#f9ede7"/><stop offset="0.390" stop-color="#f9ece4"/><stop offset="0.457" stop-color="#f8f1ed"/><stop offset="0.528" stop-color="#f5f6f7"/><stop offset="0.691" stop-color="#dfecf3"/><stop offset="0.788" stop-color="#dceaf2"/><stop offset="0.944" stop-color="#deebf2"/><stop offset="1.000" stop-color="#e2edf3"/></linearGradient>
<linearGradient id="g110" gradientUnits="userSpaceOnUse" x1="666.5" y1="468.9" x2="854.4" y2="21.8"><stop offset="0.000" stop-color="#f7f7f7"/><stop offset="0.097" stop-color="#f9efe9"/><stop offset="0.264" stop-color="#faebe2"/><stop offset="0.413" stop-color="#f9ebe3"/><stop offset="0.535" stop-color="#f4f6f7"/><stop offset="0.662" stop-color="#e2edf3"/><stop offset="0.781" stop-color="#dbeaf2"/><stop offset="0.959" stop-color="#dceaf2"/><stop offset="1.000" stop-color="#dae9f2"/></linearGradient>
<linearGradient id="g111" gradientUnits="userSpaceOnUse" x1="666.8" y1="469.1" x2="861.9" y2="25.5"><stop offset="0.000" stop-color="#f6f7f7"/><stop offset="0.100" stop-color="#f9eee8"/><stop offset="0.361" stop-color="#fae8de"/><stop offset="0.424" stop-color="#faebe2"/><stop offset="0.543" stop-color="#f5f6f7"/><stop offset="0.662" stop-color="#e4eef4"/><stop offset="0.792" stop-color="#dceaf2"/><stop offset="0.922" stop-color="#d5e7f1"/><stop offset="1.000" stop-color="#d7e8f1"/></linearGradient>
<linearGradient id="g112" gradientUnits="userSpaceOnUse" x1="667.0" y1="469.2" x2="869.3" y2="29.3"><stop offset="0.000" stop-color="#f6f7f7"/><stop offset="0.201" stop-color="#faebe3"/><stop offset="0.335" stop-color="#fae8dd"/><stop offset="0.431" stop-color="#faeae1"/><stop offset="0.565" stop-color="#f4f6f7"/><stop offset="0.710" stop-color="#dae9f2"/><stop offset="1.000" stop-color="#dae9f2"/></linearGradient>
<linearGradient id="g113" gradientUnits="userSpaceOnUse" x1="667.3" y1="469.3" x2="876.7" y2="33.3"><stop offset="0.000" stop-color="#f7f7f7"/><stop offset="0.126" stop-color="#f9ede5"/><stop offset="0.309" stop-color="#fbe5d8"/><stop offset="0.435" stop-color="#faeae1"/><stop offset="0.572" stop-color="#f5f6f7"/><stop offset="0.703" stop-color="#e0ecf3"/><stop offset="0.900" stop-color="#d8e8f1"/><stop offset="1.000" stop-color="#d9e9f2"/></linearGradient>
<linearGradient id="g114" gradientUnits="userSpaceOnUse" x1="667.5" y1="469.5" x2="884.0" y2="37.5"><stop offset="0.000" stop-color="#f6f6f7"/><stop offset="0.115" stop-color="#f9eee8"/><stop offset="0.346" stop-color="#fae8dd"/><stop offset="0.435" stop-color="#faeae1"/><stop offset="0.554" stop-color="#f7f7f6"/><stop offset="0.654" stop-color="#e6eff4"/><stop offset="0.799" stop-color="#d8e8f1"/><stop offset="1.000" stop-color="#d7e8f1"/></linearGradient>
<linearGradient id="g115" gradientUnits="userSpaceOnUse" x1="667.8" y1="469.6" x2="891.2" y2="41.7"><stop offset="0.000" stop-color="#f7f7f7"/><stop offset="0.100" stop-color="#f9eee7"/><stop offset="0.305" stop-color="#fbe4d7"/><stop offset="0.398" stop-color="#fae9df"/><stop offset="0.546" stop-color="#f8f4f1"/><stop offset="0.584" stop-color="#f4f6f7"/><stop offset="0.703" stop-color="#deebf2"/><stop offset="0.818" stop-color="#deebf2"/><stop offset="0.900" stop-color="#d6e7f1"/><stop offset="1.000" stop-color="#d5e7f1"/></linearGradient>
<linearGradient id="g116" gradientUnits="userSpaceOnUse" x1="668.0" y1="469.8" x2="898.4" y2="46.1"><stop offset="0.000" stop-color="#f7f6f5"/><stop offset="0.045" stop-color="#faebe2"/><stop offset="0.112" stop-color="#fbe6db"/><stop offset="0.342" stop-color="#fbe3d4"/><stop offset="0.420" stop-color="#fbe5d8"/><stop offset="0.554" stop-color="#f8f4f3"/><stop offset="0.584" stop-color="#f4f6f6"/><stop offset="0.654" stop-color="#e9f0f4"/><stop offset="0.907" stop-color="#d5e7f1"/><stop offset="1.000" stop-color="#d9e9f1"/></linearGradient>
<linearGradient id="g117" gradientUnits="userSpaceOnUse" x1="668.3" y1="469.9" x2="905.4" y2="50.7"><stop offset="0.000" stop-color="#f7f7f6"/><stop offset="0.164" stop-color="#fbe7db"/><stop offset="0.316" stop-color="#fbe4d7"/><stop offset="0.413" stop-color="#fbe3d5"/><stop offset="0.517" stop-color="#f9ede6"/><stop offset="0.599" stop-color="#f5f6f7"/><stop offset="0.781" stop-color="#dae9f2"/><stop offset="0.900" stop-color="#d4e6f0"/><stop offset="1.000" stop-color="#d7e8f1"/></linearGradient>
<linearGradient id="g118" gradientUnits="userSpaceOnUse" x1="668.5" y1="470.1" x2="912.4" y2="55.4"><stop offset="0.000" stop-color="#f6f6f7"/><stop offset="0.149" stop-color="#faebe2"/><stop offset="0.305" stop-color="#fbe2d3"/><stop offset="0.442" stop-color="#fbe6da"/><stop offset="0.550" stop-color="#f8f0eb"/><stop offset="0.602" stop-color="#f5f6f7"/><stop offset="0.628" stop-color="#f2f4f6"/><stop offset="0.636" stop-color="#edf2f5"/><stop offset="0.770" stop-color="#dae9f2"/><stop offset="0.885" stop-color="#d5e7f1"/><stop offset="1.000" stop-color="#d5e7f1"/></linearGradient>
<linearGradient id="g119" gradientUnits="userSpaceOnUse" x1="668.7" y1="470.2" x2="919.4" y2="60.2"><stop offset="0.000" stop-color="#f7f6f6"/><stop offset="0.093" stop-color="#f9ece3"/><stop offset="0.193" stop-color="#fae8de"/><stop offset="0.286" stop-color="#fcdecd"/><stop offset="0.424" stop-color="#fcdfcd"/><stop offset="0.532" stop-color="#faebe2"/><stop offset="0.602" stop-color="#f6f6f7"/><stop offset="0.703" stop-color="#e5eff4"/><stop offset="0.829" stop-color="#d9e9f1"/><stop offset="0.888" stop-color="#d2e6f0"/><stop offset="1.000" stop-color="#d2e6f0"/></linearGradient>
<linearGradient id="g120" gradientUnits="userSpaceOnUse" x1="669.0" y1="470.4" x2="926.2" y2="65.1"><stop offset="0.000" stop-color="#f7f7f6"/><stop offset="0.112" stop-color="#f9eee7"/><stop offset="0.208" stop-color="#fae8dd"/><stop offset="0.286" stop-color="#fcdfcd"/><stop offset="0.401" stop-color="#fddcc9"/><stop offset="0.424" stop-color="#fcdfce"/><stop offset="0.428" stop-color="#f9eee8"/><stop offset="0.450" stop-color="#f9f0eb"/><stop offset="0.454" stop-color="#fbe4d7"/><stop offset="0.517" stop-color="#faeae1"/><stop offset="0.520" stop-color="#f8f1ec"/><stop offset="0.546" stop-color="#f8f2ef"/><stop offset="0.550" stop-color="#f9eee8"/><stop offset="0.554" stop-color="#f7f6f5"/><stop offset="0.587" stop-color="#f6f6f7"/><stop offset="0.595" stop-color="#f7f5f4"/><stop offset="0.639" stop-color="#f1f4f6"/><stop offset="0.862" stop-color="#d8e9f1"/><stop offset="1.000" stop-color="#d9e9f1"/></linearGradient>
<linearGradient id="g121" gradientUnits="userSpaceOnUse" x1="669.2" y1="470.6" x2="933.0" y2="70.1"><stop offset="0.000" stop-color="#f6f7f7"/><stop offset="0.130" stop-color="#faebe2"/><stop offset="0.305" stop-color="#fcdecc"/><stop offset="0.416" stop-color="#fcdfcd"/><stop offset="0.498" stop-color="#fae8dd"/><stop offset="0.580" stop-color="#f9efe9"/><stop offset="0.632" stop-color="#f6f6f7"/><stop offset="0.814" stop-color="#deebf2"/><stop offset="0.870" stop-color="#d5e7f1"/><stop offset="1.000" stop-color="#d2e5f0"/></linearGradient>
<linearGradient id="g122" gradientUnits="userSpaceOnUse" x1="669.4" y1="470.7" x2="939.7" y2="75.3"><stop offset="0.000" stop-color="#f7f7f6"/><stop offset="0.112" stop-color="#fae9de"/><stop offset="0.212" stop-color="#fce1d1"/><stop offset="0.320" stop-color="#fddbc8"/><stop offset="0.390" stop-color="#fcd5bf"/><stop offset="0.420" stop-color="#fdd9c4"/><stop offset="0.498" stop-color="#fbe4d7"/><stop offset="0.539" stop-color="#fae9df"/><stop offset="0.543" stop-color="#f8f1ed"/><stop offset="0.572" stop-color="#f8f3f1"/><stop offset="0.576" stop-color="#f9efe9"/><stop offset="0.584" stop-color="#f9f0ea"/><stop offset="0.587" stop-color="#f8f4f1"/><stop offset="0.680" stop-color="#f4f6f7"/><stop offset="0.766" stop-color="#eaf1f5"/><stop offset="0.866" stop-color="#d3e6f0"/><stop offset="1.000" stop-color="#d3e6f0"/></linearGradient>
<linearGradient id="g123" gradientUnits="userSpaceOnUse" x1="669.6" y1="470.9" x2="946.3" y2="80.6"><stop offset="0.000" stop-color="#f6f6f7"/><stop offset="0.108" stop-color="#fae9df"/><stop offset="0.208" stop-color="#fce1d2"/><stop offset="0.416" stop-color="#fddcc9"/><stop offset="0.528" stop-color="#fae8dd"/><stop offset="0.632" stop-color="#f7f5f4"/><stop offset="0.743" stop-color="#f3f5f6"/><stop offset="0.866" stop-color="#d2e6f0"/><stop offset="1.000" stop-color="#d5e7f1"/></linearGradient>
<linearGradient id="g124" gradientUnits="userSpaceOnUse" x1="669.9" y1="471.1" x2="952.8" y2="86.1"><stop offset="0.000" stop-color="#f5f6f7"/><stop offset="0.015" stop-color="#f7f6f5"/><stop offset="0.059" stop-color="#fae7db"/><stop offset="0.193" stop-color="#fcd2bc"/><stop offset="0.234" stop-color="#fcd5bf"/><stop offset="0.312" stop-color="#fddbc7"/><stop offset="0.416" stop-color="#fcd7c2"/><stop offset="0.546" stop-color="#fae8de"/><stop offset="0.636" stop-color="#f8f3f0"/><stop offset="0.751" stop-color="#f5f6f7"/><stop offset="0.836" stop-color="#d8e8f1"/><stop offset="0.870" stop-color="#d6e7f1"/><stop offset="1.000" stop-color="#d6e7f1"/></linearGradient>
<linearGradient id="g125" gradientUnits="userSpaceOnUse" x1="670.1" y1="471.3" x2="959.2" y2="91.6"><stop offset="0.000" stop-color="#f6f7f7"/><stop offset="0.067" stop-color="#f9ece4"/><stop offset="0.149" stop-color="#fcdecb"/><stop offset="0.320" stop-color="#faccb4"/><stop offset="0.420" stop-color="#fac9b0"/><stop offset="0.506" stop-color="#fdd9c4"/><stop offset="0.599" stop-color="#faebe2"/><stop offset="0.647" stop-color="#f8f0eb"/><stop offset="0.747" stop-color="#f8f3f0"/><stop offset="0.766" stop-color="#f5f6f7"/><stop offset="0.851" stop-color="#d7e8f1"/><stop offset="0.952" stop-color="#d9e9f1"/><stop offset="1.000" stop-color="#d7e8f1"/></linearGradient>
<linearGradient id="g126" gradientUnits="userSpaceOnUse" x1="670.3" y1="471.5" x2="965.6" y2="97.3"><stop offset="0.000" stop-color="#f6f6f7"/><stop offset="0.052" stop-color="#f9eee8"/><stop offset="0.126" stop-color="#fcd5bf"/><stop offset="0.156" stop-color="#facbb3"/><stop offset="0.197" stop-color="#f9c5ab"/><stop offset="0.290" stop-color="#f9c3a9"/><stop offset="0.409" stop-color="#f8bea2"/><stop offset="0.520" stop-color="#fcd5bf"/><stop offset="0.639" stop-color="#f9ede5"/><stop offset="0.699" stop-color="#f9eee8"/><stop offset="0.747" stop-color="#f9eee7"/><stop offset="0.781" stop-color="#f5f6f7"/><stop offset="0.859" stop-color="#d4e6f1"/><stop offset="1.000" stop-color="#d7e8f1"/></linearGradient>
<linearGradient id="g127" gradientUnits="userSpaceOnUse" x1="670.5" y1="471.7" x2="971.8" y2="103.1"><stop offset="0.000" stop-color="#f5f6f7"/><stop offset="0.045" stop-color="#f8f2ee"/><stop offset="0.141" stop-color="#fdd9c5"/><stop offset="0.275" stop-color="#f9c1a6"/><stop offset="0.420" stop-color="#f9c1a6"/><stop offset="0.524" stop-color="#fcd4be"/><stop offset="0.602" stop-color="#fbe5d7"/><stop offset="0.639" stop-color="#faeae1"/><stop offset="0.706" stop-color="#fae9df"/><stop offset="0.743" stop-color="#fbe5d9"/><stop offset="0.792" stop-color="#f7f7f7"/><stop offset="0.859" stop-color="#d9e9f1"/><stop offset="1.000" stop-color="#d6e7f1"/></linearGradient>
<linearGradient id="g128" gradientUnits="userSpaceOnUse" x1="670.7" y1="471.9" x2="978.0" y2="109.0"><stop offset="0.000" stop-color="#f3f5f6"/><stop offset="0.033" stop-color="#f7f5f4"/><stop offset="0.167" stop-color="#fcdecc"/><stop offset="0.316" stop-color="#fcd5c0"/><stop offset="0.439" stop-color="#fcd5bf"/><stop offset="0.494" stop-color="#fddac6"/><stop offset="0.498" stop-color="#faebe3"/><stop offset="0.524" stop-color="#f9ece4"/><stop offset="0.528" stop-color="#fcddcb"/><stop offset="0.639" stop-color="#faebe2"/><stop offset="0.732" stop-color="#fbe3d5"/><stop offset="0.743" stop-color="#fbe2d3"/><stop offset="0.796" stop-color="#f7f7f7"/><stop offset="0.855" stop-color="#d8e8f1"/><stop offset="1.000" stop-color="#d8e8f1"/></linearGradient>
<linearGradient id="g129" gradientUnits="userSpaceOnUse" x1="670.9" y1="472.1" x2="984.0" y2="115.0"><stop offset="0.000" stop-color="#eff3f5"/><stop offset="0.071" stop-color="#f7f6f5"/><stop offset="0.197" stop-color="#fbe4d7"/><stop offset="0.335" stop-color="#fdddcb"/><stop offset="0.428" stop-color="#fcd6c0"/><stop offset="0.539" stop-color="#fddcc9"/><stop offset="0.565" stop-color="#fcdfcd"/><stop offset="0.569" stop-color="#faeae1"/><stop offset="0.599" stop-color="#f9ece4"/><stop offset="0.602" stop-color="#fbe3d5"/><stop offset="0.643" stop-color="#fae8dd"/><stop offset="0.729" stop-color="#fbe3d4"/><stop offset="0.747" stop-color="#fbe3d4"/><stop offset="0.799" stop-color="#f5f6f7"/><stop offset="0.855" stop-color="#d8e8f1"/><stop offset="1.000" stop-color="#d5e7f1"/></linearGradient>
<linearGradient id="g130" gradientUnits="userSpaceOnUse" x1="671.1" y1="472.3" x2="990.0" y2="121.1"><stop offset="0.000" stop-color="#eaf1f5"/><stop offset="0.119" stop-color="#f6f7f7"/><stop offset="0.160" stop-color="#f8f2ee"/><stop offset="0.204" stop-color="#f9ece4"/><stop offset="0.309" stop-color="#fbe6da"/><stop offset="0.387" stop-color="#fddcc9"/><stop offset="0.439" stop-color="#fdddca"/><stop offset="0.491" stop-color="#fcdfce"/><stop offset="0.494" stop-color="#faeae1"/><stop offset="0.506" stop-color="#faeae1"/><stop offset="0.509" stop-color="#fcdfcd"/><stop offset="0.587" stop-color="#fce1d0"/><stop offset="0.639" stop-color="#fbe6da"/><stop offset="0.743" stop-color="#fce2d2"/><stop offset="0.796" stop-color="#f6f7f7"/><stop offset="0.859" stop-color="#d3e6f0"/><stop offset="0.944" stop-color="#d5e7f1"/><stop offset="1.000" stop-color="#dae9f2"/></linearGradient>
<linearGradient id="g131" gradientUnits="userSpaceOnUse" x1="671.3" y1="472.5" x2="995.8" y2="127.4"><stop offset="0.000" stop-color="#e1edf3"/><stop offset="0.037" stop-color="#e0ecf3"/><stop offset="0.082" stop-color="#d4e6f1"/><stop offset="0.149" stop-color="#deebf2"/><stop offset="0.197" stop-color="#f1f4f6"/><stop offset="0.257" stop-color="#f7f6f6"/><stop offset="0.305" stop-color="#f9f0eb"/><stop offset="0.375" stop-color="#fce0d0"/><stop offset="0.431" stop-color="#fdddca"/><stop offset="0.539" stop-color="#fcdecb"/><stop offset="0.651" stop-color="#fbe6da"/><stop offset="0.743" stop-color="#fbe3d4"/><stop offset="0.796" stop-color="#f6f6f7"/><stop offset="0.855" stop-color="#d4e6f1"/><stop offset="1.000" stop-color="#d6e7f1"/></linearGradient>
<linearGradient id="g132" gradientUnits="userSpaceOnUse" x1="671.5" y1="472.7" x2="1001.6" y2="133.7"><stop offset="0.000" stop-color="#d8e8f1"/><stop offset="0.145" stop-color="#cbe2ee"/><stop offset="0.230" stop-color="#f6f6f7"/><stop offset="0.416" stop-color="#fce1d1"/><stop offset="0.539" stop-color="#fce0d0"/><stop offset="0.643" stop-color="#fbe6d9"/><stop offset="0.743" stop-color="#fce1d1"/><stop offset="0.796" stop-color="#f7f7f7"/><stop offset="0.859" stop-color="#d3e6f0"/><stop offset="0.963" stop-color="#d5e7f1"/><stop offset="1.000" stop-color="#d7e8f1"/></linearGradient>
<linearGradient id="g133" gradientUnits="userSpaceOnUse" x1="671.7" y1="472.9" x2="1007.2" y2="140.2"><stop offset="0.000" stop-color="#cee3ef"/><stop offset="0.052" stop-color="#bfdceb"/><stop offset="0.149" stop-color="#b1d5e7"/><stop offset="0.182" stop-color="#c3deec"/><stop offset="0.223" stop-color="#e1edf3"/><stop offset="0.264" stop-color="#f7f7f7"/><stop offset="0.349" stop-color="#faeae1"/><stop offset="0.420" stop-color="#fbe3d5"/><stop offset="0.517" stop-color="#fce0cf"/><stop offset="0.606" stop-color="#fbe2d3"/><stop offset="0.610" stop-color="#fbe2d4"/><stop offset="0.613" stop-color="#f9eee7"/><stop offset="0.643" stop-color="#f9eee8"/><stop offset="0.647" stop-color="#fbe4d7"/><stop offset="0.743" stop-color="#fce1d2"/><stop offset="0.796" stop-color="#f7f7f7"/><stop offset="0.859" stop-color="#d8e8f1"/><stop offset="1.000" stop-color="#dae9f2"/></linearGradient>
<linearGradient id="g134" gradientUnits="userSpaceOnUse" x1="671.9" y1="473.1" x2="1012.7" y2="146.8"><stop offset="0.000" stop-color="#c4dfec"/><stop offset="0.048" stop-color="#b2d5e7"/><stop offset="0.130" stop-color="#aed3e6"/><stop offset="0.160" stop-color="#abd2e5"/><stop offset="0.197" stop-color="#abd2e5"/><stop offset="0.230" stop-color="#bfdceb"/><stop offset="0.264" stop-color="#dceaf2"/><stop offset="0.309" stop-color="#f5f6f7"/><stop offset="0.398" stop-color="#fae9df"/><stop offset="0.535" stop-color="#fce0cf"/><stop offset="0.703" stop-color="#fbe5d9"/><stop offset="0.747" stop-color="#fbe4d6"/><stop offset="0.799" stop-color="#f5f6f7"/><stop offset="0.859" stop-color="#d4e6f1"/><stop offset="0.933" stop-color="#d4e7f1"/><stop offset="1.000" stop-color="#dae9f2"/></linearGradient>
<linearGradient id="g135" gradientUnits="userSpaceOnUse" x1="672.1" y1="473.4" x2="1018.2" y2="153.4"><stop offset="0.000" stop-color="#c3deec"/><stop offset="0.045" stop-color="#b4d6e8"/><stop offset="0.104" stop-color="#bddbea"/><stop offset="0.145" stop-color="#cfe4ef"/><stop offset="0.212" stop-color="#b0d4e7"/><stop offset="0.245" stop-color="#abd2e5"/><stop offset="0.275" stop-color="#b8d8e9"/><stop offset="0.305" stop-color="#d3e6f0"/><stop offset="0.387" stop-color="#f6f7f7"/><stop offset="0.457" stop-color="#f9efea"/><stop offset="0.636" stop-color="#fbe2d3"/><stop offset="0.743" stop-color="#fce2d3"/><stop offset="0.796" stop-color="#f6f6f7"/><stop offset="0.855" stop-color="#d6e7f1"/><stop offset="1.000" stop-color="#dae9f2"/></linearGradient>
<linearGradient id="g136" gradientUnits="userSpaceOnUse" x1="672.2" y1="473.6" x2="1023.5" y2="160.2"><stop offset="0.000" stop-color="#cae1ee"/><stop offset="0.045" stop-color="#c4deec"/><stop offset="0.145" stop-color="#e6eff4"/><stop offset="0.234" stop-color="#cfe4ef"/><stop offset="0.297" stop-color="#b0d4e7"/><stop offset="0.342" stop-color="#b3d6e7"/><stop offset="0.379" stop-color="#c5dfed"/><stop offset="0.439" stop-color="#ecf2f5"/><stop offset="0.468" stop-color="#f7f6f6"/><stop offset="0.591" stop-color="#fae9df"/><stop offset="0.651" stop-color="#fbe3d4"/><stop offset="0.743" stop-color="#fce2d2"/><stop offset="0.796" stop-color="#f7f7f7"/><stop offset="0.855" stop-color="#dae9f2"/><stop offset="0.933" stop-color="#dae9f2"/><stop offset="1.000" stop-color="#d2e6f0"/></linearGradient>
<linearGradient id="g137" gradientUnits="userSpaceOnUse" x1="672.4" y1="473.8" x2="1028.7" y2="167.1"><stop offset="0.000" stop-color="#d5e7f1"/><stop offset="0.052" stop-color="#d8e8f1"/><stop offset="0.145" stop-color="#eff3f5"/><stop offset="0.268" stop-color="#e6eff4"/><stop offset="0.372" stop-color="#cde3ef"/><stop offset="0.431" stop-color="#b7d8e9"/><stop offset="0.454" stop-color="#b8d9e9"/><stop offset="0.480" stop-color="#cde3ef"/><stop offset="0.535" stop-color="#f7f7f7"/><stop offset="0.576" stop-color="#fae9de"/><stop offset="0.636" stop-color="#fcdfcf"/><stop offset="0.729" stop-color="#fce2d2"/><stop offset="0.747" stop-color="#fbe5d8"/><stop offset="0.792" stop-color="#f6f6f7"/><stop offset="0.855" stop-color="#d4e6f1"/><stop offset="1.000" stop-color="#d6e7f1"/></linearGradient>
<linearGradient id="g138" gradientUnits="userSpaceOnUse" x1="672.6" y1="474.1" x2="1033.8" y2="174.0"><stop offset="0.000" stop-color="#dfecf3"/><stop offset="0.074" stop-color="#e7eff4"/><stop offset="0.156" stop-color="#f0f3f6"/><stop offset="0.409" stop-color="#f5f6f7"/><stop offset="0.442" stop-color="#eef3f5"/><stop offset="0.498" stop-color="#cde3ef"/><stop offset="0.524" stop-color="#bbdaea"/><stop offset="0.546" stop-color="#bedbeb"/><stop offset="0.599" stop-color="#f5f6f7"/><stop offset="0.632" stop-color="#fae7dc"/><stop offset="0.688" stop-color="#fbe2d3"/><stop offset="0.743" stop-color="#fce1d1"/><stop offset="0.799" stop-color="#f5f6f7"/><stop offset="0.855" stop-color="#d9e9f1"/><stop offset="1.000" stop-color="#d8e8f1"/></linearGradient>
<linearGradient id="g139" gradientUnits="userSpaceOnUse" x1="672.7" y1="474.3" x2="1038.8" y2="181.1"><stop offset="0.000" stop-color="#e8f0f4"/><stop offset="0.178" stop-color="#f0f4f6"/><stop offset="0.268" stop-color="#f4f6f6"/><stop offset="0.290" stop-color="#f7f5f4"/><stop offset="0.383" stop-color="#f7f5f4"/><stop offset="0.442" stop-color="#f8f1ed"/><stop offset="0.465" stop-color="#f8f3f0"/><stop offset="0.494" stop-color="#f8f1ec"/><stop offset="0.539" stop-color="#f7f6f6"/><stop offset="0.572" stop-color="#e5eff4"/><stop offset="0.617" stop-color="#c1ddeb"/><stop offset="0.639" stop-color="#bfdceb"/><stop offset="0.684" stop-color="#ddebf2"/><stop offset="0.721" stop-color="#f7f7f7"/><stop offset="0.743" stop-color="#f9efe9"/><stop offset="0.773" stop-color="#f8f3ef"/><stop offset="0.792" stop-color="#f5f6f7"/><stop offset="0.855" stop-color="#d3e6f0"/><stop offset="1.000" stop-color="#d4e6f1"/></linearGradient>
<linearGradient id="g140" gradientUnits="userSpaceOnUse" x1="672.9" y1="474.5" x2="1043.7" y2="188.2"><stop offset="0.000" stop-color="#eef3f5"/><stop offset="0.052" stop-color="#d0e4f0"/><stop offset="0.260" stop-color="#d8e9f1"/><stop offset="0.264" stop-color="#ebf1f5"/><stop offset="0.268" stop-color="#ebf2f5"/><stop offset="0.271" stop-color="#f2f5f6"/><stop offset="0.283" stop-color="#f3f5f6"/><stop offset="0.286" stop-color="#ecf2f5"/><stop offset="0.297" stop-color="#edf2f5"/><stop offset="0.301" stop-color="#e2edf3"/><stop offset="0.335" stop-color="#f1f4f6"/><stop offset="0.338" stop-color="#f7f6f5"/><stop offset="0.390" stop-color="#f8f0eb"/><stop offset="0.405" stop-color="#f9ede5"/><stop offset="0.546" stop-color="#fae7dc"/><stop offset="0.606" stop-color="#fbe5d8"/><stop offset="0.643" stop-color="#f9ece4"/><stop offset="0.669" stop-color="#f6f7f7"/><stop offset="0.743" stop-color="#c3deec"/><stop offset="0.766" stop-color="#c2deec"/><stop offset="0.788" stop-color="#c8e0ed"/><stop offset="0.907" stop-color="#c3deec"/><stop offset="1.000" stop-color="#c3deec"/></linearGradient>
<linearGradient id="g141" gradientUnits="userSpaceOnUse" x1="673.1" y1="474.8" x2="1048.4" y2="195.5"><stop offset="0.000" stop-color="#f2f5f6"/><stop offset="0.149" stop-color="#edf2f5"/><stop offset="0.257" stop-color="#f2f5f6"/><stop offset="0.275" stop-color="#f3f5f6"/><stop offset="0.283" stop-color="#f7f7f7"/><stop offset="0.327" stop-color="#f7f5f4"/><stop offset="0.372" stop-color="#f9efe9"/><stop offset="0.375" stop-color="#f8f3f0"/><stop offset="0.428" stop-color="#f8f1ec"/><stop offset="0.431" stop-color="#faeae0"/><stop offset="0.450" stop-color="#faeae0"/><stop offset="0.454" stop-color="#f9eee8"/><stop offset="0.480" stop-color="#f9eee8"/><stop offset="0.483" stop-color="#faeae0"/><stop offset="0.628" stop-color="#fce2d3"/><stop offset="0.743" stop-color="#fae8dd"/><stop offset="0.773" stop-color="#f5f6f7"/><stop offset="0.810" stop-color="#e3eef3"/><stop offset="0.859" stop-color="#d1e5f0"/><stop offset="1.000" stop-color="#d4e6f1"/></linearGradient>
<linearGradient id="g142" gradientUnits="userSpaceOnUse" x1="673.2" y1="475.0" x2="1053.0" y2="202.8"><stop offset="0.000" stop-color="#f3f5f6"/><stop offset="0.115" stop-color="#ecf2f5"/><stop offset="0.238" stop-color="#eef3f5"/><stop offset="0.312" stop-color="#f6f7f7"/><stop offset="0.401" stop-color="#fae7db"/><stop offset="0.405" stop-color="#f9efe9"/><stop offset="0.446" stop-color="#f9eee7"/><stop offset="0.450" stop-color="#fbe3d5"/><stop offset="0.524" stop-color="#fbe2d3"/><stop offset="0.621" stop-color="#fce2d3"/><stop offset="0.729" stop-color="#fce1d1"/><stop offset="0.747" stop-color="#fbe4d6"/><stop offset="0.796" stop-color="#f5f6f7"/><stop offset="0.855" stop-color="#d5e7f1"/><stop offset="1.000" stop-color="#d4e7f1"/></linearGradient>
<linearGradient id="g143" gradientUnits="userSpaceOnUse" x1="673.4" y1="475.3" x2="1057.6" y2="210.2"><stop offset="0.000" stop-color="#eff3f5"/><stop offset="0.033" stop-color="#dbeaf2"/><stop offset="0.193" stop-color="#d8e8f1"/><stop offset="0.242" stop-color="#e5eff4"/><stop offset="0.297" stop-color="#f7f6f5"/><stop offset="0.383" stop-color="#fbe6da"/><stop offset="0.387" stop-color="#f9eee7"/><stop offset="0.439" stop-color="#faebe2"/><stop offset="0.442" stop-color="#fcdecd"/><stop offset="0.517" stop-color="#fdddca"/><stop offset="0.599" stop-color="#fbe2d3"/><stop offset="0.747" stop-color="#fce1d2"/><stop offset="0.799" stop-color="#f7f7f7"/><stop offset="0.859" stop-color="#d6e7f1"/><stop offset="1.000" stop-color="#d5e7f1"/></linearGradient>
<linearGradient id="g144" gradientUnits="userSpaceOnUse" x1="673.5" y1="475.5" x2="1062.0" y2="217.7"><stop offset="0.000" stop-color="#f5f6f7"/><stop offset="0.119" stop-color="#edf2f5"/><stop offset="0.208" stop-color="#f0f4f6"/><stop offset="0.257" stop-color="#f7f6f5"/><stop offset="0.409" stop-color="#fcdfcd"/><stop offset="0.457" stop-color="#fcdfce"/><stop offset="0.461" stop-color="#f9ece3"/><stop offset="0.506" stop-color="#faebe2"/><stop offset="0.509" stop-color="#fdddcb"/><stop offset="0.617" stop-color="#fcdfcd"/><stop offset="0.747" stop-color="#fbe5d8"/><stop offset="0.792" stop-color="#f7f7f7"/><stop offset="0.855" stop-color="#d4e7f1"/><stop offset="1.000" stop-color="#d8e9f1"/></linearGradient>
<linearGradient id="g145" gradientUnits="userSpaceOnUse" x1="673.7" y1="475.8" x2="1066.2" y2="225.3"><stop offset="0.000" stop-color="#f6f6f7"/><stop offset="0.093" stop-color="#ecf2f5"/><stop offset="0.201" stop-color="#f1f4f6"/><stop offset="0.238" stop-color="#f7f5f4"/><stop offset="0.323" stop-color="#faeae0"/><stop offset="0.383" stop-color="#fbe5d8"/><stop offset="0.387" stop-color="#f9ece4"/><stop offset="0.409" stop-color="#faebe2"/><stop offset="0.413" stop-color="#fce1d1"/><stop offset="0.550" stop-color="#fddac6"/><stop offset="0.717" stop-color="#fce1d1"/><stop offset="0.747" stop-color="#fbe3d5"/><stop offset="0.796" stop-color="#f7f7f7"/><stop offset="0.859" stop-color="#d7e8f1"/><stop offset="1.000" stop-color="#d8e8f1"/></linearGradient>
<linearGradient id="g146" gradientUnits="userSpaceOnUse" x1="673.8" y1="476.0" x2="1070.4" y2="233.0"><stop offset="0.000" stop-color="#eef3f5"/><stop offset="0.030" stop-color="#e1edf3"/><stop offset="0.115" stop-color="#dfecf3"/><stop offset="0.193" stop-color="#e5eff4"/><stop offset="0.242" stop-color="#f7f6f6"/><stop offset="0.290" stop-color="#faeae1"/><stop offset="0.420" stop-color="#fddcc9"/><stop offset="0.524" stop-color="#fdd9c5"/><stop offset="0.680" stop-color="#fbe3d4"/><stop offset="0.743" stop-color="#fbe2d4"/><stop offset="0.796" stop-color="#f7f7f7"/><stop offset="0.859" stop-color="#d5e7f1"/><stop offset="1.000" stop-color="#d5e7f1"/></linearGradient>
<linearGradient id="g147" gradientUnits="userSpaceOnUse" x1="673.9" y1="476.3" x2="1074.4" y2="240.7"><stop offset="0.000" stop-color="#f6f6f7"/><stop offset="0.100" stop-color="#eef3f5"/><stop offset="0.197" stop-color="#f4f6f6"/><stop offset="0.219" stop-color="#f7f5f3"/><stop offset="0.301" stop-color="#fbe4d7"/><stop offset="0.305" stop-color="#faebe3"/><stop offset="0.309" stop-color="#faebe2"/><stop offset="0.312" stop-color="#f9f0eb"/><stop offset="0.349" stop-color="#f9efea"/><stop offset="0.364" stop-color="#f9ede6"/><stop offset="0.368" stop-color="#fcdfce"/><stop offset="0.420" stop-color="#fddcc9"/><stop offset="0.558" stop-color="#fce0d0"/><stop offset="0.561" stop-color="#f9ede6"/><stop offset="0.587" stop-color="#f9eee7"/><stop offset="0.591" stop-color="#fbe2d3"/><stop offset="0.740" stop-color="#fbe4d6"/><stop offset="0.792" stop-color="#f6f7f7"/><stop offset="0.855" stop-color="#d4e7f1"/><stop offset="0.948" stop-color="#d6e7f1"/><stop offset="1.000" stop-color="#d4e6f1"/></linearGradient>
<linearGradient id="g148" gradientUnits="userSpaceOnUse" x1="674.1" y1="476.6" x2="1078.3" y2="248.5"><stop offset="0.000" stop-color="#f7f7f7"/><stop offset="0.104" stop-color="#f2f5f6"/><stop offset="0.201" stop-color="#f7f6f5"/><stop offset="0.271" stop-color="#faeae0"/><stop offset="0.275" stop-color="#f9eee7"/><stop offset="0.290" stop-color="#f9ece5"/><stop offset="0.294" stop-color="#fbe6da"/><stop offset="0.327" stop-color="#fbe3d5"/><stop offset="0.331" stop-color="#f9eee8"/><stop offset="0.353" stop-color="#f9eee7"/><stop offset="0.357" stop-color="#fce1d2"/><stop offset="0.401" stop-color="#fcdecc"/><stop offset="0.405" stop-color="#f9ece5"/><stop offset="0.446" stop-color="#f9ece4"/><stop offset="0.450" stop-color="#fddcc9"/><stop offset="0.546" stop-color="#fddcc9"/><stop offset="0.703" stop-color="#fbe3d5"/><stop offset="0.747" stop-color="#fbe7db"/><stop offset="0.792" stop-color="#f6f6f7"/><stop offset="0.855" stop-color="#d5e7f1"/><stop offset="0.974" stop-color="#dbeaf2"/><stop offset="1.000" stop-color="#dceaf2"/></linearGradient>
<linearGradient id="g149" gradientUnits="userSpaceOnUse" x1="674.2" y1="476.8" x2="1082.1" y2="256.4"><stop offset="0.000" stop-color="#f4f6f7"/><stop offset="0.086" stop-color="#ecf2f5"/><stop offset="0.197" stop-color="#f7f6f5"/><stop offset="0.297" stop-color="#fce1d1"/><stop offset="0.413" stop-color="#fddcc9"/><stop offset="0.506" stop-color="#fcd7c2"/><stop offset="0.617" stop-color="#fce0d0"/><stop offset="0.732" stop-color="#fbe3d4"/><stop offset="0.747" stop-color="#fbe6d9"/><stop offset="0.792" stop-color="#f6f6f7"/><stop offset="0.851" stop-color="#d6e7f1"/><stop offset="0.944" stop-color="#d6e7f1"/><stop offset="1.000" stop-color="#d2e6f0"/></linearGradient>
<linearGradient id="g150" gradientUnits="userSpaceOnUse" x1="674.3" y1="477.1" x2="1085.7" y2="264.3"><stop offset="0.000" stop-color="#edf2f5"/><stop offset="0.026" stop-color="#e5eef4"/><stop offset="0.086" stop-color="#e2edf3"/><stop offset="0.182" stop-color="#f3f5f6"/><stop offset="0.201" stop-color="#f7f5f4"/><stop offset="0.257" stop-color="#fbe7db"/><stop offset="0.309" stop-color="#fcdfcd"/><stop offset="0.405" stop-color="#fddcc8"/><stop offset="0.494" stop-color="#fdd9c4"/><stop offset="0.498" stop-color="#fae8dd"/><stop offset="0.532" stop-color="#fae8dd"/><stop offset="0.535" stop-color="#fdd9c5"/><stop offset="0.714" stop-color="#fbe3d4"/><stop offset="0.743" stop-color="#fbe3d5"/><stop offset="0.796" stop-color="#f5f6f7"/><stop offset="0.859" stop-color="#d3e6f0"/><stop offset="1.000" stop-color="#d9e9f2"/></linearGradient>
<linearGradient id="g151" gradientUnits="userSpaceOnUse" x1="674.4" y1="477.4" x2="1089.2" y2="272.3"><stop offset="0.000" stop-color="#f6f7f7"/><stop offset="0.086" stop-color="#eef3f5"/><stop offset="0.186" stop-color="#f7f6f5"/><stop offset="0.305" stop-color="#fce2d2"/><stop offset="0.413" stop-color="#fddac6"/><stop offset="0.439" stop-color="#fcd6c1"/><stop offset="0.442" stop-color="#fbe5d9"/><stop offset="0.498" stop-color="#fbe5d7"/><stop offset="0.502" stop-color="#fcd3bc"/><stop offset="0.584" stop-color="#fce1d2"/><stop offset="0.743" stop-color="#fbe3d5"/><stop offset="0.796" stop-color="#f5f6f7"/><stop offset="0.855" stop-color="#d4e6f0"/><stop offset="1.000" stop-color="#d7e8f1"/></linearGradient>
<linearGradient id="g152" gradientUnits="userSpaceOnUse" x1="674.6" y1="477.6" x2="1092.6" y2="280.4"><stop offset="0.000" stop-color="#f7f6f6"/><stop offset="0.089" stop-color="#f2f5f6"/><stop offset="0.160" stop-color="#f7f5f4"/><stop offset="0.249" stop-color="#fae9de"/><stop offset="0.309" stop-color="#fce1d1"/><stop offset="0.457" stop-color="#fdddca"/><stop offset="0.595" stop-color="#fcdecc"/><stop offset="0.740" stop-color="#fbe4d7"/><stop offset="0.788" stop-color="#f7f7f7"/><stop offset="0.851" stop-color="#d5e7f1"/><stop offset="1.000" stop-color="#d8e8f1"/></linearGradient>
<linearGradient id="g153" gradientUnits="userSpaceOnUse" x1="674.7" y1="477.9" x2="1095.8" y2="288.6"><stop offset="0.000" stop-color="#f7f7f7"/><stop offset="0.082" stop-color="#eef3f5"/><stop offset="0.160" stop-color="#f7f6f5"/><stop offset="0.257" stop-color="#faeae0"/><stop offset="0.316" stop-color="#fbe3d5"/><stop offset="0.398" stop-color="#fce0d0"/><stop offset="0.487" stop-color="#fcd6c1"/><stop offset="0.554" stop-color="#fdddcb"/><stop offset="0.651" stop-color="#fce1d1"/><stop offset="0.743" stop-color="#fbe3d4"/><stop offset="0.796" stop-color="#f6f6f7"/><stop offset="0.859" stop-color="#d2e5f0"/><stop offset="0.955" stop-color="#d5e7f1"/><stop offset="1.000" stop-color="#d8e8f1"/></linearGradient>
<linearGradient id="g154" gradientUnits="userSpaceOnUse" x1="674.8" y1="478.2" x2="1099.0" y2="296.8"><stop offset="0.000" stop-color="#f7f7f7"/><stop offset="0.086" stop-color="#eff3f6"/><stop offset="0.164" stop-color="#f7f6f5"/><stop offset="0.249" stop-color="#f9ebe3"/><stop offset="0.331" stop-color="#fce2d2"/><stop offset="0.465" stop-color="#fdd9c5"/><stop offset="0.532" stop-color="#fddcc8"/><stop offset="0.613" stop-color="#fce0d0"/><stop offset="0.732" stop-color="#fce2d2"/><stop offset="0.751" stop-color="#fbe6d9"/><stop offset="0.792" stop-color="#f7f7f7"/><stop offset="0.855" stop-color="#d8e8f1"/><stop offset="0.929" stop-color="#dbeaf2"/><stop offset="1.000" stop-color="#d9e9f2"/></linearGradient>
<linearGradient id="g155" gradientUnits="userSpaceOnUse" x1="674.9" y1="478.5" x2="1101.9" y2="305.0"><stop offset="0.000" stop-color="#f7f7f7"/><stop offset="0.126" stop-color="#f4f6f7"/><stop offset="0.197" stop-color="#f7f5f4"/><stop offset="0.379" stop-color="#fce1d1"/><stop offset="0.532" stop-color="#fddcc9"/><stop offset="0.740" stop-color="#fce1d1"/><stop offset="0.796" stop-color="#f6f6f7"/><stop offset="0.859" stop-color="#d4e7f1"/><stop offset="1.000" stop-color="#d2e6f0"/></linearGradient>
</defs>
<g clip-path="url(#ax)">
<g fill="none" stroke-width="6.1" stroke-linecap="round">
<path d="M644.2 482.9L559.3 474.5" stroke="url(#g1)"/>
<path d="M644.2 482.6L559.5 472.6" stroke="url(#g2)"/>
<path d="M644.2 482.3L543.6 468.5" stroke="url(#g3)"/>
<path d="M644.3 482.0L344.4 435.0" stroke="url(#g4)"/>
<path d="M644.3 481.7L193.8 402.5" stroke="url(#g5)"/>
<path d="M644.4 481.4L195.2 393.7" stroke="url(#g6)"/>
<path d="M644.4 481.2L196.7 385.0" stroke="url(#g7)"/>
<path d="M644.5 480.9L198.4 376.3" stroke="url(#g8)"/>
<path d="M644.5 480.6L200.2 367.7" stroke="url(#g9)"/>
<path d="M644.6 480.3L202.2 359.1" stroke="url(#g10)"/>
<path d="M644.7 480.0L204.3 350.5" stroke="url(#g11)"/>
<path d="M644.7 479.7L206.5 342.0" stroke="url(#g12)"/>
<path d="M644.8 479.4L208.9 333.5" stroke="url(#g13)"/>
<path d="M644.9 479.1L211.5 325.1" stroke="url(#g14)"/>
<path d="M645.0 478.9L214.1 316.7" stroke="url(#g15)"/>
<path d="M645.1 478.6L216.9 308.4" stroke="url(#g16)"/>
<path d="M645.2 478.3L219.8 300.1" stroke="url(#g17)"/>
<path d="M645.3 478.0L222.9 291.8" stroke="url(#g18)"/>
<path d="M645.4 477.7L226.1 283.7" stroke="url(#g19)"/>
<path d="M645.5 477.5L229.4 275.6" stroke="url(#g20)"/>
<path d="M645.6 477.2L232.9 267.5" stroke="url(#g21)"/>
<path d="M645.8 476.9L236.5 259.5" stroke="url(#g22)"/>
<path d="M645.9 476.7L240.2 251.6" stroke="url(#g23)"/>
<path d="M646.0 476.4L244.0 243.8" stroke="url(#g24)"/>
<path d="M646.1 476.1L248.0 236.0" stroke="url(#g25)"/>
<path d="M646.3 475.9L252.1 228.3" stroke="url(#g26)"/>
<path d="M646.4 475.6L256.3 220.7" stroke="url(#g27)"/>
<path d="M646.6 475.4L260.7 213.2" stroke="url(#g28)"/>
<path d="M646.7 475.1L265.1 205.8" stroke="url(#g29)"/>
<path d="M646.9 474.9L269.7 198.4" stroke="url(#g30)"/>
<path d="M647.0 474.6L274.4 191.1" stroke="url(#g31)"/>
<path d="M647.2 474.4L279.2 183.9" stroke="url(#g32)"/>
<path d="M647.4 474.1L284.2 176.8" stroke="url(#g33)"/>
<path d="M647.5 473.9L289.2 169.8" stroke="url(#g34)"/>
<path d="M647.7 473.7L294.4 162.9" stroke="url(#g35)"/>
<path d="M647.9 473.5L299.7 156.1" stroke="url(#g36)"/>
<path d="M648.1 473.2L305.1 149.4" stroke="url(#g37)"/>
<path d="M648.2 473.0L310.6 142.8" stroke="url(#g38)"/>
<path d="M648.4 472.8L316.2 136.3" stroke="url(#g39)"/>
<path d="M648.6 472.6L321.9 129.9" stroke="url(#g40)"/>
<path d="M648.8 472.4L327.7 123.6" stroke="url(#g41)"/>
<path d="M649.0 472.2L333.6 117.4" stroke="url(#g42)"/>
<path d="M649.2 471.9L339.6 111.4" stroke="url(#g43)"/>
<path d="M649.4 471.7L345.7 105.4" stroke="url(#g44)"/>
<path d="M649.6 471.6L351.9 99.6" stroke="url(#g45)"/>
<path d="M649.8 471.4L358.2 93.9" stroke="url(#g46)"/>
<path d="M650.1 471.2L364.6 88.3" stroke="url(#g47)"/>
<path d="M650.3 471.0L371.1 82.8" stroke="url(#g48)"/>
<path d="M650.5 470.8L377.7 77.4" stroke="url(#g49)"/>
<path d="M650.7 470.6L384.3 72.2" stroke="url(#g50)"/>
<path d="M651.0 470.5L391.0 67.1" stroke="url(#g51)"/>
<path d="M651.2 470.3L397.9 62.1" stroke="url(#g52)"/>
<path d="M651.4 470.1L404.8 57.3" stroke="url(#g53)"/>
<path d="M651.6 470.0L411.7 52.5" stroke="url(#g54)"/>
<path d="M651.9 469.8L418.8 47.9" stroke="url(#g55)"/>
<path d="M652.1 469.7L425.9 43.5" stroke="url(#g56)"/>
<path d="M652.4 469.5L433.1 39.2" stroke="url(#g57)"/>
<path d="M652.6 469.4L440.4 35.0" stroke="url(#g58)"/>
<path d="M652.9 469.2L447.7 30.9" stroke="url(#g59)"/>
<path d="M653.1 469.1L455.1 27.0" stroke="url(#g60)"/>
<path d="M653.4 469.0L462.6 23.2" stroke="url(#g61)"/>
<path d="M653.6 468.9L470.1 19.6" stroke="url(#g62)"/>
<path d="M653.9 468.7L477.7 16.1" stroke="url(#g63)"/>
<path d="M654.1 468.6L485.3 12.8" stroke="url(#g64)"/>
<path d="M654.4 468.5L493.0 9.6" stroke="url(#g65)"/>
<path d="M654.6 468.4L500.7 6.5" stroke="url(#g66)"/>
<path d="M654.9 468.3L508.5 3.6" stroke="url(#g67)"/>
<path d="M655.2 468.2L516.4 0.8" stroke="url(#g68)"/>
<path d="M655.4 468.1L524.2 -1.8" stroke="url(#g69)"/>
<path d="M655.7 468.1L532.2 -4.3" stroke="url(#g70)"/>
<path d="M656.0 468.0L540.1 -6.6" stroke="url(#g71)"/>
<path d="M656.2 467.9L548.1 -8.8" stroke="url(#g72)"/>
<path d="M656.5 467.8L556.1 -10.8" stroke="url(#g73)"/>
<path d="M656.8 467.8L564.2 -12.7" stroke="url(#g74)"/>
<path d="M657.0 467.7L572.3 -14.4" stroke="url(#g75)"/>
<path d="M657.3 467.7L580.4 -16.0" stroke="url(#g76)"/>
<path d="M657.6 467.6L588.5 -17.4" stroke="url(#g77)"/>
<path d="M657.9 467.6L596.7 -18.6" stroke="url(#g78)"/>
<path d="M658.1 467.5L604.9 -19.7" stroke="url(#g79)"/>
<path d="M658.4 467.5L613.1 -20.7" stroke="url(#g80)"/>
<path d="M658.7 467.5L621.3 -21.5" stroke="url(#g81)"/>
<path d="M659.0 467.5L629.5 -22.2" stroke="url(#g82)"/>
<path d="M659.3 467.4L637.7 -22.6" stroke="url(#g83)"/>
<path d="M659.5 467.4L646.0 -23.0" stroke="url(#g84)"/>
<path d="M659.8 467.4L654.2 -23.2" stroke="url(#g85)"/>
<path d="M660.1 467.4L662.5 -23.2" stroke="url(#g86)"/>
<path d="M660.4 467.4L670.7 -23.1" stroke="url(#g87)"/>
<path d="M660.6 467.4L679.0 -22.8" stroke="url(#g88)"/>
<path d="M660.9 467.4L687.2 -22.4" stroke="url(#g89)"/>
<path d="M661.2 467.5L695.4 -21.8" stroke="url(#g90)"/>
<path d="M661.5 467.5L703.6 -21.0" stroke="url(#g91)"/>
<path d="M661.7 467.5L711.8 -20.1" stroke="url(#g92)"/>
<path d="M662.0 467.6L720.0 -19.1" stroke="url(#g93)"/>
<path d="M662.3 467.6L728.2 -17.9" stroke="url(#g94)"/>
<path d="M662.6 467.6L736.3 -16.5" stroke="url(#g95)"/>
<path d="M662.8 467.7L744.5 -15.0" stroke="url(#g96)"/>
<path d="M663.1 467.7L752.6 -13.4" stroke="url(#g97)"/>
<path d="M663.4 467.8L760.6 -11.6" stroke="url(#g98)"/>
<path d="M663.7 467.9L768.7 -9.6" stroke="url(#g99)"/>
<path d="M663.9 467.9L776.7 -7.5" stroke="url(#g100)"/>
<path d="M664.2 468.0L784.7 -5.2" stroke="url(#g101)"/>
<path d="M664.5 468.1L792.6 -2.8" stroke="url(#g102)"/>
<path d="M664.7 468.2L800.5 -0.2" stroke="url(#g103)"/>
<path d="M665.0 468.3L808.3 2.5" stroke="url(#g104)"/>
<path d="M665.3 468.4L816.1 5.3" stroke="url(#g105)"/>
<path d="M665.5 468.5L823.9 8.3" stroke="url(#g106)"/>
<path d="M665.8 468.6L831.6 11.5" stroke="url(#g107)"/>
<path d="M666.0 468.7L839.3 14.8" stroke="url(#g108)"/>
<path d="M666.3 468.8L846.9 18.2" stroke="url(#g109)"/>
<path d="M666.5 468.9L854.4 21.8" stroke="url(#g110)"/>
<path d="M666.8 469.1L861.9 25.5" stroke="url(#g111)"/>
<path d="M667.0 469.2L869.3 29.3" stroke="url(#g112)"/>
<path d="M667.3 469.3L876.7 33.3" stroke="url(#g113)"/>
<path d="M667.5 469.5L884.0 37.5" stroke="url(#g114)"/>
<path d="M667.8 469.6L891.2 41.7" stroke="url(#g115)"/>
<path d="M668.0 469.8L898.4 46.1" stroke="url(#g116)"/>
<path d="M668.3 469.9L905.4 50.7" stroke="url(#g117)"/>
<path d="M668.5 470.1L912.4 55.4" stroke="url(#g118)"/>
<path d="M668.7 470.2L919.4 60.2" stroke="url(#g119)"/>
<path d="M669.0 470.4L926.2 65.1" stroke="url(#g120)"/>
<path d="M669.2 470.6L933.0 70.1" stroke="url(#g121)"/>
<path d="M669.4 470.7L939.7 75.3" stroke="url(#g122)"/>
<path d="M669.6 470.9L946.3 80.6" stroke="url(#g123)"/>
<path d="M669.9 471.1L952.8 86.1" stroke="url(#g124)"/>
<path d="M670.1 471.3L959.2 91.6" stroke="url(#g125)"/>
<path d="M670.3 471.5L965.6 97.3" stroke="url(#g126)"/>
<path d="M670.5 471.7L971.8 103.1" stroke="url(#g127)"/>
<path d="M670.7 471.9L978.0 109.0" stroke="url(#g128)"/>
<path d="M670.9 472.1L984.0 115.0" stroke="url(#g129)"/>
<path d="M671.1 472.3L990.0 121.1" stroke="url(#g130)"/>
<path d="M671.3 472.5L995.8 127.4" stroke="url(#g131)"/>
<path d="M671.5 472.7L1001.6 133.7" stroke="url(#g132)"/>
<path d="M671.7 472.9L1007.2 140.2" stroke="url(#g133)"/>
<path d="M671.9 473.1L1012.7 146.8" stroke="url(#g134)"/>
<path d="M672.1 473.4L1018.2 153.4" stroke="url(#g135)"/>
<path d="M672.2 473.6L1023.5 160.2" stroke="url(#g136)"/>
<path d="M672.4 473.8L1028.7 167.1" stroke="url(#g137)"/>
<path d="M672.6 474.1L1033.8 174.0" stroke="url(#g138)"/>
<path d="M672.7 474.3L1038.8 181.1" stroke="url(#g139)"/>
<path d="M672.9 474.5L1043.7 188.2" stroke="url(#g140)"/>
<path d="M673.1 474.8L1048.4 195.5" stroke="url(#g141)"/>
<path d="M673.2 475.0L1053.0 202.8" stroke="url(#g142)"/>
<path d="M673.4 475.3L1057.6 210.2" stroke="url(#g143)"/>
<path d="M673.5 475.5L1062.0 217.7" stroke="url(#g144)"/>
<path d="M673.7 475.8L1066.2 225.3" stroke="url(#g145)"/>
<path d="M673.8 476.0L1070.4 233.0" stroke="url(#g146)"/>
<path d="M673.9 476.3L1074.4 240.7" stroke="url(#g147)"/>
<path d="M674.1 476.6L1078.3 248.5" stroke="url(#g148)"/>
<path d="M674.2 476.8L1082.1 256.4" stroke="url(#g149)"/>
<path d="M674.3 477.1L1085.7 264.3" stroke="url(#g150)"/>
<path d="M674.4 477.4L1089.2 272.3" stroke="url(#g151)"/>
<path d="M674.6 477.6L1092.6 280.4" stroke="url(#g152)"/>
<path d="M674.7 477.9L1095.8 288.6" stroke="url(#g153)"/>
<path d="M674.8 478.2L1099.0 296.8" stroke="url(#g154)"/>
<path d="M674.9 478.5L1101.9 305.0" stroke="url(#g155)"/>
</g>
<g><circle cx="367.4" cy="105.8" r="3.05" fill="#d5e7f1"/><circle cx="365.1" cy="102.8" r="3.05" fill="#fbe6db"/><circle cx="370.1" cy="122.3" r="3.05" fill="#6aacd0"/><circle cx="367.8" cy="119.4" r="3.05" fill="#fae9df"/><circle cx="366.7" cy="130.7" r="3.05" fill="#c1ddec"/><circle cx="364.3" cy="127.8" r="3.05" fill="#fae9df"/><circle cx="389.1" cy="133.8" r="3.05" fill="#c1ddec"/><circle cx="386.8" cy="130.9" r="3.05" fill="#f9ece4"/><circle cx="390.1" cy="147.2" r="3.05" fill="#9fcbe2"/><circle cx="387.8" cy="144.4" r="3.05" fill="#f9efea"/><circle cx="400.1" cy="148.1" r="3.05" fill="#abd2e5"/><circle cx="397.9" cy="145.2" r="3.05" fill="#f9f0eb"/><circle cx="399.3" cy="158.8" r="3.05" fill="#d1e5f0"/><circle cx="397.0" cy="155.9" r="3.05" fill="#f8f1ed"/><circle cx="411.5" cy="162.8" r="3.05" fill="#d5e7f1"/><circle cx="409.2" cy="159.9" r="3.05" fill="#f7f6f6"/><circle cx="424.0" cy="179.0" r="3.05" fill="#b2d5e7"/><circle cx="421.8" cy="176.1" r="3.05" fill="#edf2f5"/><circle cx="429.4" cy="206.4" r="3.05" fill="#b2d5e7"/><circle cx="427.1" cy="203.6" r="3.05" fill="#e4eef4"/><circle cx="440.8" cy="210.6" r="3.05" fill="#bedbeb"/><circle cx="438.5" cy="207.7" r="3.05" fill="#e0ecf3"/><circle cx="467.6" cy="149.8" r="3.05" fill="#d9e9f1"/><circle cx="465.8" cy="146.5" r="3.05" fill="#faeae0"/><circle cx="486.7" cy="182.9" r="3.05" fill="#d5e7f1"/><circle cx="484.8" cy="179.7" r="3.05" fill="#f9efe9"/><path d="M519.9 240.7L518.3 238.0" stroke="#c1ddec" stroke-width="4.4" fill="none"/><path d="M515.9 297.9L513.9 295.4" stroke="#57a0ca" stroke-width="3.7" fill="none"/><circle cx="426.4" cy="78.1" r="3.05" fill="#f8bb9e"/><circle cx="424.5" cy="74.8" r="3.05" fill="#fce1d1"/><circle cx="423.4" cy="72.7" r="3.05" fill="#f3f5f6"/><circle cx="421.5" cy="69.5" r="3.05" fill="#fce1d1"/><path d="M546.1 347.1L544.1 344.7" stroke="#6aacd0" stroke-width="2.8" fill="none"/><path d="M598.7 373.5L597.1 370.7" stroke="#a2cde2" stroke-width="2.0" fill="none"/><path d="M603.4 382.0L601.8 379.2" stroke="#a2cde2" stroke-width="1.8" fill="none"/><path d="M583.7 392.5L581.7 390.1" stroke="#92c5de" stroke-width="1.9" fill="none"/><path d="M590.6 403.7L588.5 401.2" stroke="#a2cde2" stroke-width="1.7" fill="none"/><path d="M615.8 404.4L614.2 401.6" stroke="#a2cde2" stroke-width="1.4" fill="none"/><path d="M607.6 416.6L605.6 414.1" stroke="#92c5de" stroke-width="1.4" fill="none"/><path d="M625.0 421.2L623.5 418.4" stroke="#b2d5e7" stroke-width="1.2" fill="none"/><circle cx="312.3" cy="396.2" r="3.05" fill="#fbe5d8"/><circle cx="308.8" cy="395.3" r="3.05" fill="#d7e8f1"/><circle cx="315.4" cy="403.8" r="3.05" fill="#faeae1"/><circle cx="311.9" cy="402.9" r="3.05" fill="#d5e7f1"/><circle cx="327.6" cy="400.1" r="3.05" fill="#faeae1"/><circle cx="324.1" cy="399.2" r="3.05" fill="#d4e6f1"/><circle cx="317.2" cy="424.2" r="3.05" fill="#fce1d1"/><circle cx="313.7" cy="423.6" r="3.05" fill="#deebf2"/><circle cx="308.8" cy="422.7" r="3.05" fill="#faeae1"/><circle cx="305.3" cy="422.1" r="3.05" fill="#deebf2"/><circle cx="326.4" cy="406.3" r="3.05" fill="#f9efe9"/><circle cx="323.0" cy="405.5" r="3.05" fill="#d6e7f1"/><circle cx="834.5" cy="150.2" r="3.05" fill="#a2cde2"/><circle cx="836.3" cy="146.9" r="3.05" fill="#deebf2"/><circle cx="894.7" cy="176.4" r="3.05" fill="#7eb8d7"/><circle cx="896.9" cy="173.4" r="3.05" fill="#edf2f5"/><circle cx="891.0" cy="191.8" r="3.05" fill="#fbceb6"/><circle cx="893.3" cy="188.9" r="3.05" fill="#f8f0eb"/><circle cx="886.0" cy="198.1" r="3.05" fill="#fbceb6"/><circle cx="888.3" cy="195.2" r="3.05" fill="#f9ede6"/><circle cx="880.4" cy="205.2" r="3.05" fill="#fbceb6"/><circle cx="882.7" cy="202.3" r="3.05" fill="#f9eee7"/><circle cx="870.9" cy="217.2" r="3.05" fill="#c1ddec"/><circle cx="873.2" cy="214.3" r="3.05" fill="#f9efe9"/><circle cx="832.2" cy="213.2" r="3.05" fill="#fddbc7"/><circle cx="834.2" cy="210.1" r="3.05" fill="#f1f4f6"/><path d="M846.3 248.4L848.3 245.9" stroke="#b8d8e9" stroke-width="4.7" fill="none"/><path d="M840.5 255.7L842.5 253.2" stroke="#b8d8e9" stroke-width="4.6" fill="none"/><path d="M845.3 249.7L847.3 247.2" stroke="#fbceb6" stroke-width="4.7" fill="none"/><path d="M830.4 268.6L832.4 266.1" stroke="#daeaf2" stroke-width="4.3" fill="none"/><circle cx="831.7" cy="214.0" r="3.05" fill="#fce2d3"/><circle cx="833.7" cy="210.9" r="3.05" fill="#f1f4f6"/><path d="M805.3 300.4L807.3 297.9" stroke="#ec9475" stroke-width="3.7" fill="none"/><path d="M809.3 295.4L811.2 292.9" stroke="#f19e7d" stroke-width="3.8" fill="none"/><path d="M797.2 304.4L799.1 301.9" stroke="#ec9475" stroke-width="3.5" fill="none"/><path d="M777.7 330.0L779.6 327.4" stroke="#e58268" stroke-width="3.0" fill="none"/><path d="M759.4 327.8L761.2 325.1" stroke="#f5aa89" stroke-width="2.9" fill="none"/><path d="M751.8 363.9L753.7 361.4" stroke="#f4a582" stroke-width="2.4" fill="none"/><path d="M746.2 371.4L748.1 368.8" stroke="#f19e7d" stroke-width="2.2" fill="none"/><path d="M727.6 398.8L729.6 396.3" stroke="#4393c3" stroke-width="1.7" fill="none"/><path d="M720.6 412.9L722.7 410.5" stroke="#ec9475" stroke-width="1.5" fill="none"/><path d="M717.1 419.4L719.2 417.0" stroke="#f4a582" stroke-width="1.4" fill="none"/><path d="M694.7 442.0L696.8 439.5" stroke="#327cb8" stroke-width="1.2" fill="none"/><path d="M736.2 384.4L738.1 381.9" stroke="#f6b293" stroke-width="2.0" fill="none"/><path d="M741.4 377.6L743.3 375.1" stroke="#f8c0a4" stroke-width="2.1" fill="none"/></g>
<g><circle cx="196.1" cy="411.1" r="3.2" fill="#f4a582"/><circle cx="192.2" cy="412.8" r="3.2" fill="#053061"/><circle cx="199.6" cy="412.3" r="3.2" fill="#67001f"/><circle cx="202.3" cy="414.0" r="3.2" fill="#67001f"/><circle cx="209.5" cy="416.3" r="3.2" fill="#e8eef2"/><circle cx="207.2" cy="415.2" r="3.2" fill="#f7e0d4"/><circle cx="213.0" cy="413.4" r="3.2" fill="#053061"/><circle cx="215.9" cy="416.3" r="3.2" fill="#053061"/><circle cx="219.4" cy="415.8" r="3.2" fill="#053061"/><circle cx="227.0" cy="415.2" r="3.2" fill="#f4a582"/><circle cx="225.8" cy="417.5" r="3.2" fill="#c13639"/><circle cx="222.9" cy="417.5" r="3.2" fill="#f9d5c5"/><circle cx="236.0" cy="417.7" r="3.2" fill="#67001f"/><circle cx="242.8" cy="418.7" r="3.2" fill="#053061"/><circle cx="246.3" cy="421.0" r="3.2" fill="#053061"/><circle cx="242.2" cy="420.8" r="3.2" fill="#d1e5f0"/><circle cx="248.6" cy="418.7" r="3.2" fill="#67001f"/><circle cx="258.5" cy="419.8" r="3.2" fill="#f4a582"/><circle cx="255.6" cy="421.6" r="3.2" fill="#5ba2cb"/><circle cx="252.4" cy="422.2" r="3.2" fill="#f4a582"/><circle cx="260.8" cy="423.3" r="3.2" fill="#67001f"/><circle cx="265.5" cy="422.8" r="3.2" fill="#67001f"/><circle cx="269.0" cy="423.3" r="3.2" fill="#67001f"/><circle cx="272.5" cy="424.5" r="3.2" fill="#67001f"/><circle cx="279.5" cy="426.3" r="3.2" fill="#67001f"/><circle cx="276.0" cy="425.7" r="3.2" fill="#053061"/><circle cx="287.7" cy="426.8" r="3.2" fill="#67001f"/><circle cx="283.6" cy="426.8" r="3.2" fill="#0a3a70"/><circle cx="292.3" cy="428.0" r="3.2" fill="#c13639"/><circle cx="295.8" cy="427.4" r="3.2" fill="#67001f"/><circle cx="300.5" cy="428.0" r="3.2" fill="#67001f"/><circle cx="304.0" cy="428.6" r="3.2" fill="#67001f"/><circle cx="308.0" cy="429.0" r="3.2" fill="#67001f"/></g>
<polygon points="150.0,498.2 151.1,497.8 158.0,494.5 166.7,491.9 177.5,486.5 187.3,485.8 197.0,482.6 206.8,480.9 216.5,475.7 225.6,473.3 234.9,467.4 243.6,464.2 253.3,458.8 263.1,454.0 272.8,446.8 282.6,441.0 292.3,431.7 301.0,429.1 311.8,426.9 321.6,426.7 329.2,429.5 340.0,433.4 349.8,440.3 359.5,442.9 369.3,446.2 379.0,451.6 389.8,454.4 395.0,456.4 408.0,459.0 421.0,461.2 434.0,462.3 447.0,465.5 460.0,467.7 473.0,469.8 486.0,471.6 496.8,471.6 509.8,470.5 521.8,470.1 531.5,471.4 540.2,473.5 548.8,476.3 559.7,478.5 568.3,481.8 579.2,484.6 587.8,489.8 596.5,491.9 606.3,494.1 616.0,492.8 629.0,491.1 642.0,489.3 655.2,488.0 672.5,484.1 683.3,480.4 694.2,477.8 705.0,475.0 720.2,471.1 729.9,466.3 740.8,462.7 750.5,456.2 759.2,452.3 768.9,446.4 778.7,442.5 787.3,438.2 797.1,436.7 806.8,437.1 815.5,438.8 826.3,447.9 835.0,450.1 844.8,455.5 854.5,459.4 864.3,467.4 872.9,469.6 882.7,475.4 892.6,476.7 892.6,536.6 150.0,536.6" fill="#000"/>
<polyline points="150.0,498.2 151.1,497.8 158.0,494.5 166.7,491.9 177.5,486.5 187.3,485.8 197.0,482.6 206.8,480.9 216.5,475.7 225.6,473.3 234.9,467.4 243.6,464.2 253.3,458.8 263.1,454.0 272.8,446.8 282.6,441.0 292.3,431.7 301.0,429.1 311.8,426.9 321.6,426.7 329.2,429.5 340.0,433.4 349.8,440.3 359.5,442.9 369.3,446.2 379.0,451.6 389.8,454.4 395.0,456.4 408.0,459.0 421.0,461.2 434.0,462.3 447.0,465.5 460.0,467.7 473.0,469.8 486.0,471.6 496.8,471.6 509.8,470.5 521.8,470.1 531.5,471.4 540.2,473.5 548.8,476.3 559.7,478.5 568.3,481.8 579.2,484.6 587.8,489.8 596.5,491.9 606.3,494.1 616.0,492.8 629.0,491.1 642.0,489.3 655.2,488.0 672.5,484.1 683.3,480.4 694.2,477.8 705.0,475.0 720.2,471.1 729.9,466.3 740.8,462.7 750.5,456.2 759.2,452.3 768.9,446.4 778.7,442.5 787.3,438.2 797.1,436.7 806.8,437.1 815.5,438.8 826.3,447.9 835.0,450.1 844.8,455.5 854.5,459.4 864.3,467.4 872.9,469.6 882.7,475.4 892.6,476.7" fill="none" stroke="#0000ff" stroke-width="1.6" stroke-linejoin="round"/>
<g fill="#000" stroke="none"><path d="M321.1 398.2L322.6 398.2L323.7 427.6L321.3 427.6Z"/><path d="M321.3 396.9L332.7 383.1L333.2 383.5L322.6 398.3Z"/><path d="M322.2 398.6L314.0 396.9L306.0 395.0L306.1 394.5L314.5 395.4L322.3 396.6Z"/><path d="M321.9 398.0L323.0 398.0L324.6 415.6L324.1 415.7L322.6 408.0Z"/><circle cx="321.9" cy="397.7" r="1.4"/></g>
</g>
<g stroke="#000" stroke-width="0.75" stroke-dasharray="1.39 4.17" fill="none">
<path d="M319.50 572.0V63.6"/><path d="M488.50 572.0V63.6"/><path d="M657.50 572.0V63.6"/><path d="M826.50 572.0V63.6"/><path d="M150.5 499.50H894.0"/><path d="M150.5 427.50H894.0"/><path d="M150.5 354.50H894.0"/><path d="M150.5 281.50H894.0"/><path d="M150.5 208.50H894.0"/><path d="M150.5 136.50H894.0"/>
</g>
<polygon points="150.0,498.2 151.1,497.8 158.0,494.5 166.7,491.9 177.5,486.5 187.3,485.8 197.0,482.6 206.8,480.9 216.5,475.7 225.6,473.3 234.9,467.4 243.6,464.2 253.3,458.8 263.1,454.0 272.8,446.8 282.6,441.0 292.3,431.7 301.0,429.1 311.8,426.9 321.6,426.7 329.2,429.5 340.0,433.4 349.8,440.3 359.5,442.9 369.3,446.2 379.0,451.6 389.8,454.4 395.0,456.4 408.0,459.0 421.0,461.2 434.0,462.3 447.0,465.5 460.0,467.7 473.0,469.8 486.0,471.6 496.8,471.6 509.8,470.5 521.8,470.1 531.5,471.4 540.2,473.5 548.8,476.3 559.7,478.5 568.3,481.8 579.2,484.6 587.8,489.8 596.5,491.9 606.3,494.1 616.0,492.8 629.0,491.1 642.0,489.3 655.2,488.0 672.5,484.1 683.3,480.4 694.2,477.8 705.0,475.0 720.2,471.1 729.9,466.3 740.8,462.7 750.5,456.2 759.2,452.3 768.9,446.4 778.7,442.5 787.3,438.2 797.1,436.7 806.8,437.1 815.5,438.8 826.3,447.9 835.0,450.1 844.8,455.5 854.5,459.4 864.3,467.4 872.9,469.6 882.7,475.4 892.6,476.7 892.6,536.6 150.0,536.6" fill="#000"/>
<polyline points="150.0,498.2 151.1,497.8 158.0,494.5 166.7,491.9 177.5,486.5 187.3,485.8 197.0,482.6 206.8,480.9 216.5,475.7 225.6,473.3 234.9,467.4 243.6,464.2 253.3,458.8 263.1,454.0 272.8,446.8 282.6,441.0 292.3,431.7 301.0,429.1 311.8,426.9 321.6,426.7 329.2,429.5 340.0,433.4 349.8,440.3 359.5,442.9 369.3,446.2 379.0,451.6 389.8,454.4 395.0,456.4 408.0,459.0 421.0,461.2 434.0,462.3 447.0,465.5 460.0,467.7 473.0,469.8 486.0,471.6 496.8,471.6 509.8,470.5 521.8,470.1 531.5,471.4 540.2,473.5 548.8,476.3 559.7,478.5 568.3,481.8 579.2,484.6 587.8,489.8 596.5,491.9 606.3,494.1 616.0,492.8 629.0,491.1 642.0,489.3 655.2,488.0 672.5,484.1 683.3,480.4 694.2,477.8 705.0,475.0 720.2,471.1 729.9,466.3 740.8,462.7 750.5,456.2 759.2,452.3 768.9,446.4 778.7,442.5 787.3,438.2 797.1,436.7 806.8,437.1 815.5,438.8 826.3,447.9 835.0,450.1 844.8,455.5 854.5,459.4 864.3,467.4 872.9,469.6 882.7,475.4 892.6,476.7" fill="none" stroke="#0000ff" stroke-width="1.6" stroke-linejoin="round" clip-path="url(#ax)"/>
<g stroke="#000" stroke-width="1" fill="none">
<path d="M150.50 572.5v-6.1M150.50 63.5v6.1"/><path d="M319.50 572.5v-6.1M319.50 63.5v6.1"/><path d="M488.50 572.5v-6.1M488.50 63.5v6.1"/><path d="M657.50 572.5v-6.1M657.50 63.5v6.1"/><path d="M826.50 572.5v-6.1M826.50 63.5v6.1"/><path d="M150.5 572.50h6.1M894.5 572.50h-6.1"/><path d="M150.5 499.50h6.1M894.5 499.50h-6.1"/><path d="M150.5 427.50h6.1M894.5 427.50h-6.1"/><path d="M150.5 354.50h6.1M894.5 354.50h-6.1"/><path d="M150.5 281.50h6.1M894.5 281.50h-6.1"/><path d="M150.5 208.50h6.1M894.5 208.50h-6.1"/><path d="M150.5 136.50h6.1M894.5 136.50h-6.1"/><path d="M150.5 63.50h6.1M894.5 63.50h-6.1"/>
</g>
<rect x="150.5" y="63.5" width="744" height="509" fill="none" stroke="#000" stroke-width="1"/>
<rect x="940.5" y="63.5" width="26.0" height="509" fill="url(#cb)" stroke="#000" stroke-width="1"/>
<g stroke="#000" stroke-width="1"><path d="M966.5 521.50h-6.1"/><path d="M966.5 470.50h-6.1"/><path d="M966.5 419.50h-6.1"/><path d="M966.5 368.50h-6.1"/><path d="M966.5 318.50h-6.1"/><path d="M966.5 267.50h-6.1"/><path d="M966.5 216.50h-6.1"/><path d="M966.5 165.50h-6.1"/><path d="M966.5 114.50h-6.1"/></g>
<g opacity="0.999">
<text x="149.0" y="592.3" font-size="17.20" textLength="44.5" lengthAdjust="spacingAndGlyphs" text-anchor="middle">−500</text><text x="318.6" y="592.3" font-size="17.20" textLength="10.0" lengthAdjust="spacingAndGlyphs" text-anchor="middle">0</text><text x="487.7" y="592.3" font-size="17.20" textLength="31.0" lengthAdjust="spacingAndGlyphs" text-anchor="middle">500</text><text x="656.8" y="592.3" font-size="17.20" textLength="40.3" lengthAdjust="spacingAndGlyphs" text-anchor="middle">1000</text><text x="825.9" y="592.3" font-size="17.20" textLength="40.3" lengthAdjust="spacingAndGlyphs" text-anchor="middle">1500</text><text x="143.6" y="577.0" font-size="17.20" textLength="45.2" lengthAdjust="spacingAndGlyphs" text-anchor="end">−400</text><text x="143.6" y="504.3" font-size="17.20" textLength="45.2" lengthAdjust="spacingAndGlyphs" text-anchor="end">−200</text><text x="143.6" y="431.6" font-size="17.20" textLength="10.0" lengthAdjust="spacingAndGlyphs" text-anchor="end">0</text><text x="143.6" y="358.9" font-size="17.20" textLength="30.6" lengthAdjust="spacingAndGlyphs" text-anchor="end">200</text><text x="143.6" y="286.3" font-size="17.20" textLength="30.6" lengthAdjust="spacingAndGlyphs" text-anchor="end">400</text><text x="143.6" y="213.6" font-size="17.20" textLength="30.6" lengthAdjust="spacingAndGlyphs" text-anchor="end">600</text><text x="143.6" y="140.9" font-size="17.20" textLength="30.6" lengthAdjust="spacingAndGlyphs" text-anchor="end">800</text><text x="143.6" y="68.2" font-size="17.20" textLength="40.6" lengthAdjust="spacingAndGlyphs" text-anchor="end">1000</text><text x="392.1" y="56.7" font-size="20.00" textLength="259.0" lengthAdjust="spacingAndGlyphs" text-anchor="start">2017/05/17 03:00:00 UTC</text><text x="409.4" y="619.3" font-size="22.20" textLength="225.3" lengthAdjust="spacingAndGlyphs" text-anchor="start">distance to WEC / m</text><g transform="translate(87.6 396.3) rotate(-90)"><text x="0.0" y="0.0" font-size="22.20" textLength="155.3" lengthAdjust="spacingAndGlyphs" text-anchor="start">rel. height / m</text></g><text x="973.6" y="579.0" font-size="22.80" textLength="45.4" lengthAdjust="spacingAndGlyphs" text-anchor="start">−10</text><text x="973.6" y="528.1" font-size="22.80" textLength="33.0" lengthAdjust="spacingAndGlyphs" text-anchor="start">−8</text><text x="973.6" y="477.2" font-size="22.80" textLength="33.0" lengthAdjust="spacingAndGlyphs" text-anchor="start">−6</text><text x="973.6" y="426.4" font-size="22.80" textLength="33.0" lengthAdjust="spacingAndGlyphs" text-anchor="start">−4</text><text x="973.6" y="375.5" font-size="22.80" textLength="33.0" lengthAdjust="spacingAndGlyphs" text-anchor="start">−2</text><text x="972.2" y="324.6" font-size="22.80" textLength="13.6" lengthAdjust="spacingAndGlyphs" text-anchor="start">0</text><text x="972.2" y="273.7" font-size="22.80" textLength="13.6" lengthAdjust="spacingAndGlyphs" text-anchor="start">2</text><text x="972.2" y="222.8" font-size="22.80" textLength="13.6" lengthAdjust="spacingAndGlyphs" text-anchor="start">4</text><text x="972.2" y="172.0" font-size="22.80" textLength="13.6" lengthAdjust="spacingAndGlyphs" text-anchor="start">6</text><text x="972.2" y="121.1" font-size="22.80" textLength="13.6" lengthAdjust="spacingAndGlyphs" text-anchor="start">8</text><text x="973.0" y="70.2" font-size="22.80" textLength="26.0" lengthAdjust="spacingAndGlyphs" text-anchor="start">10</text><g transform="translate(1043.7 457.6) rotate(-90)"><text x="0.0" y="0.0" font-size="22.20" textLength="259.3" lengthAdjust="spacingAndGlyphs" text-anchor="start">radial wind speed / m s</text><text x="261.0" y="-9.0" font-size="15.50" textLength="17.0" lengthAdjust="spacingAndGlyphs" text-anchor="start">−1</text></g>
</g>
</svg>
</body></html>
